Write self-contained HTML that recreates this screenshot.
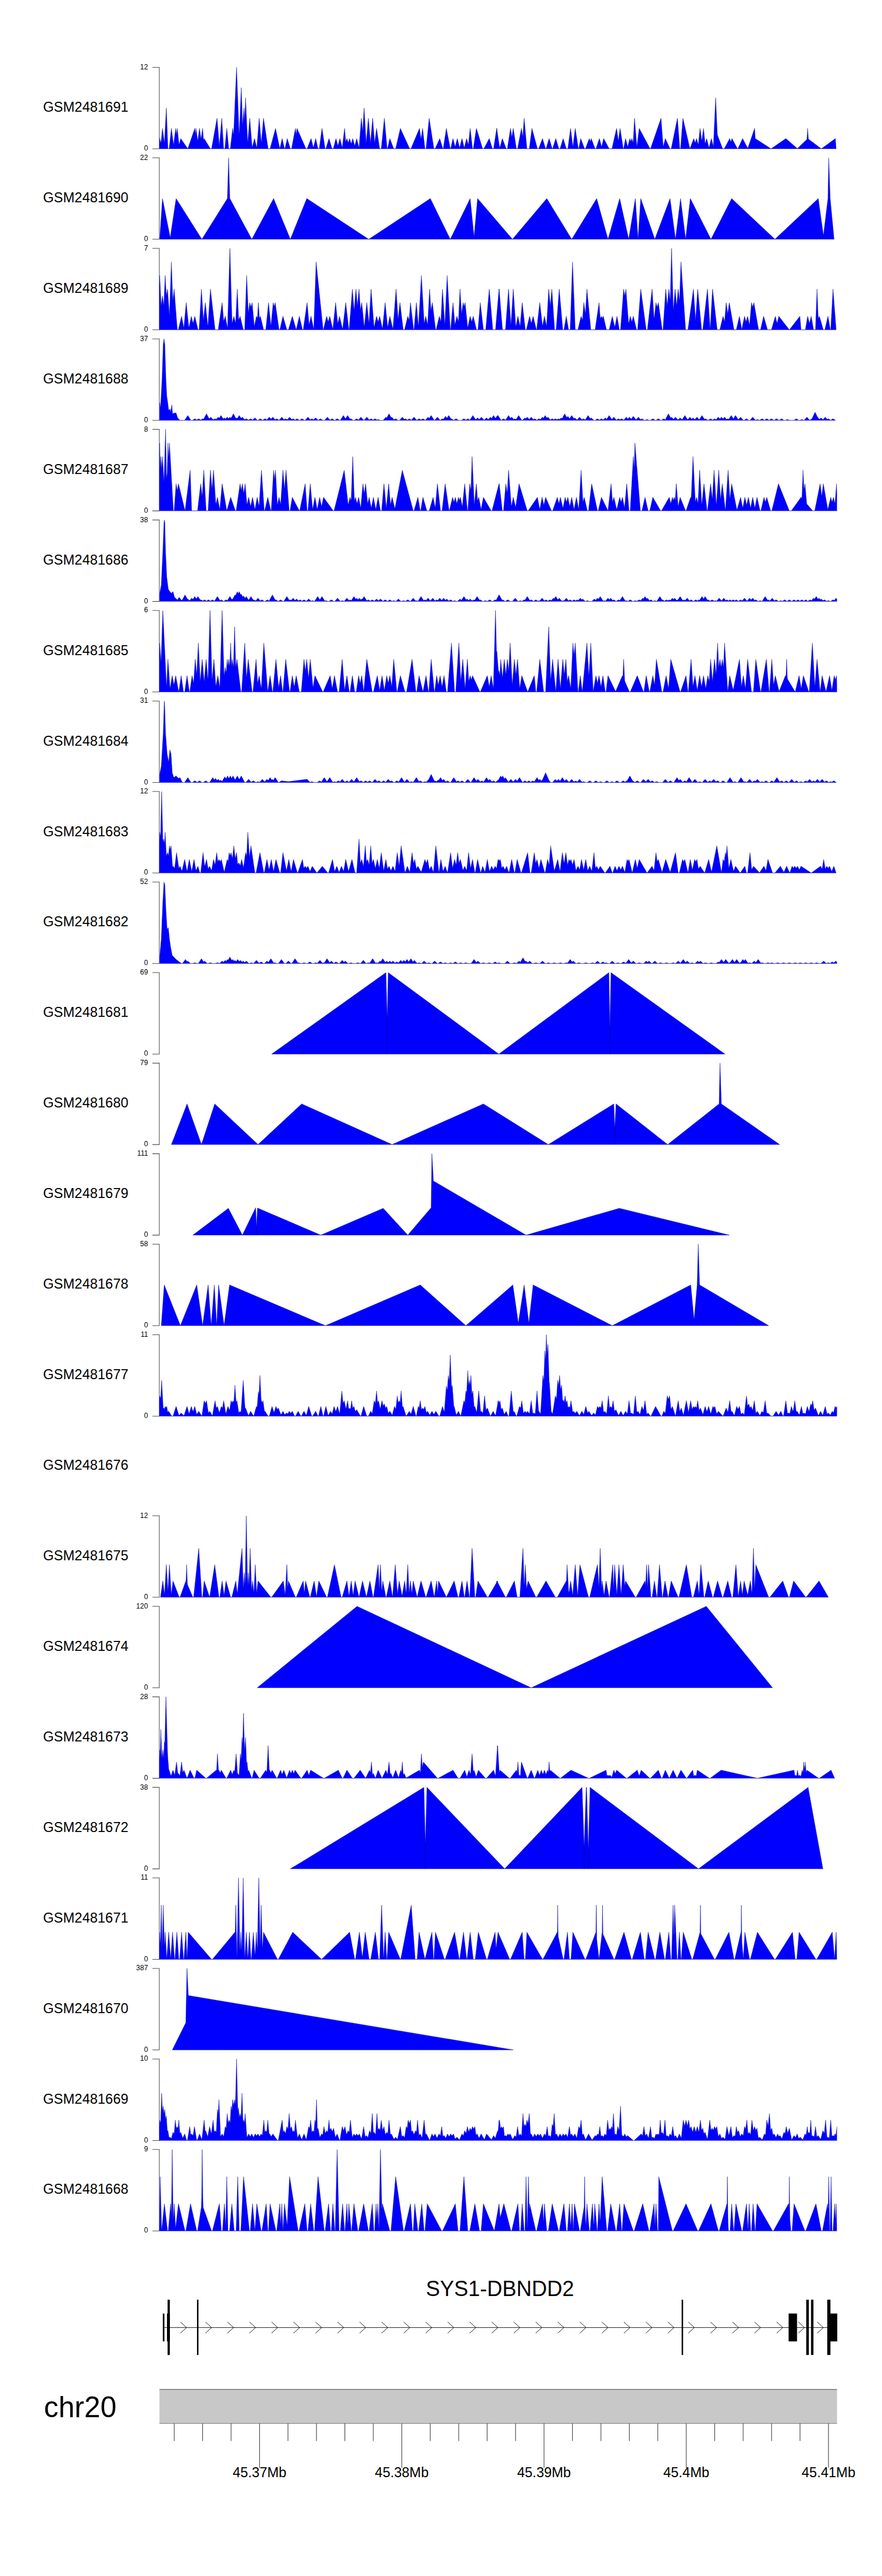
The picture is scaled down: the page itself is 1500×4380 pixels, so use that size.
<!DOCTYPE html><html><head><meta charset="utf-8"><title>tracks</title>
<style>html,body{margin:0;padding:0;background:#fff}svg{display:block}text{font-family:"Liberation Sans",Arial,sans-serif;fill:#000}</style></head><body>
<svg width="1500" height="4380" viewBox="0 0 1500 4380">
<rect width="1500" height="4380" fill="#fff"/>
<defs><clipPath id="cp"><rect x="270.9" y="0" width="1152.6" height="4380"/></clipPath></defs>
<text x="73.3" y="190.1" font-size="23.5">GSM2481691</text>
<path d="M259.2 114.4 H270.95 V252.9 H259.2" fill="none" stroke="#505050" stroke-width="1.05"/>
<text x="251.6" y="117.8" font-size="12" text-anchor="end">12</text>
<text x="251.6" y="256" font-size="12" text-anchor="end">0</text>
<path d="M270.9 252.9L270.9 247.6L271.4 234.9L273.8 243.4L276.3 218.3L279.6 243.4L282.9 183.7L285.6 252.9L287.6 252.9L291.5 218.3L295.2 246.7L298.8 218.3L300.2 229.4L301.5 218.3L304.5 246.5L307.4 235.6L319.4 252.9L331.3 218.3L332.3 229.4L333.3 218.3L336.3 240L339.3 218.3L341.9 236.7L344.6 218.3L345.9 235.6L346.4 239.1L347.2 235.6L357.9 252.9L359.8 252.9L369.1 201L373.1 248.6L377.1 201L380.4 252.9L382.4 252.9L385.7 218.3L389 252.9L391.7 252.9L395.7 218.3L396.9 227.6L397.4 228L402.3 114.4L406.4 221.5L406.9 229.4L410.3 149L412.6 213.8L414.9 183.7L416.2 205.8L417.6 166.3L421.2 243.6L424.8 201L428.8 251.5L432.8 235.6L436.8 251.5L440.8 201L444.4 243.6L448.1 201L456 252.9L459.3 252.9L468.6 218.3L475.9 252.9L479.9 235.6L483.9 252.9L484.5 252.9L488.5 235.6L493.8 252.9L495.8 252.9L502.4 218.3L503.8 229.4L505.1 218.3L520.4 252.9L522.3 252.9L529 235.6L533 251.5L536.9 235.6L540.9 252.9L542.9 252.9L547.6 218.3L552.9 252.9L554.2 252.9L559.5 235.6L564.8 252.9L566.8 252.9L571.4 235.6L574.7 248.1L578.1 235.6L582 251.5L586 218.3L588 241.5L590 235.6L592.3 243.1L594.6 235.6L597.3 244.8L599.9 235.6L603.3 248.1L606.6 235.6L610.6 251.5L614.5 201L616.9 223.6L619.2 183.7L622.8 243.6L626.5 201L630.1 243.6L633.8 201L637.1 243.4L640.4 218.3L645.7 252.9L648.4 252.9L653.7 201L658.3 252.9L659 252.9L663 235.6L669.6 252.9L672.9 252.9L680.9 218.3L696.8 252.9L698.8 252.9L713.4 218.3L716 236.7L718.7 218.3L722.7 252.9L724.6 252.9L729.9 201L737.9 252.9L739.9 252.9L747.9 235.6L753.2 252.9L753.8 252.9L759.1 218.3L765.8 252.9L766.4 252.9L770.4 235.6L774.1 249.8L777.7 235.6L781.7 251.5L785.7 235.6L789.6 251.5L793.6 235.6L796.6 246.5L799.6 218.3L803.6 252.9L804.9 252.9L810.2 218.3L820.8 252.9L822.8 252.9L832.1 235.6L837.4 252.9L839.4 252.9L844.7 218.3L844.8 219.3L845 218.3L845.9 226.1L849.9 251.9L854.3 235.6L860.9 252.9L862.9 252.9L868.2 218.3L870.5 233.3L872.9 218.3L878.2 252.9L880.2 252.9L886.8 218.3L889.1 233.3L891.4 201L896.1 252.9L900.1 252.9L904.7 218.3L914 252.9L916 252.9L922.6 235.6L927.9 252.9L928.6 252.9L933.9 235.6L939.2 252.9L939.8 252.9L945.2 235.6L950.5 252.9L952.4 252.9L957.8 235.6L963.1 252.9L965.7 252.9L970.4 218.3L974.3 250L978.3 218.3L983.6 252.9L984.3 252.9L987.6 235.6L994.2 252.9L995.6 252.9L1002.2 235.6L1003.9 241.1L1005.5 235.6L1012.1 252.9L1013.5 252.9L1019.4 235.6L1023.1 249.8L1026.7 235.6L1036 252.9L1040.7 252.9L1048.6 218.3L1051.6 240L1054.6 218.3L1059.9 252.9L1060.6 252.9L1063.9 235.6L1067.5 249.8L1071.2 235.6L1072.8 241.1L1074.5 235.6L1076.8 243.1L1079.1 201L1083.1 250L1087.1 218.3L1105.7 252.9L1106.3 252.9L1124.2 201L1127.9 249.8L1131.5 235.6L1139.5 252.9L1141.5 252.9L1152.1 201L1156.1 252.9L1157.4 252.9L1161.4 201L1173.3 252.9L1179.9 235.6L1182.3 243.1L1184.6 235.6L1187.6 246.5L1190.6 218.3L1193.5 240L1196.5 218.3L1199.2 244.8L1201.8 235.6L1205.8 251.5L1209.8 235.6L1213.1 248.5L1213.4 246.6L1217.1 166.3L1219.9 227.4L1220.4 230.4L1229 252.9L1231.7 252.9L1241 235.6L1243 241.5L1244.9 235.6L1254.2 252.9L1254.4 252.9L1254.9 252.9L1262.9 235.6L1271.5 251.7L1271.9 251.7L1283.4 218.3L1284.4 235.4L1311.3 252.9L1336.5 235.6L1355.9 252.5L1356.4 252.3L1372.4 236.8L1373.6 218.3L1374.4 231.8L1374.9 236.5L1396.8 252.9L1420.7 235.6L1422 252.9L1422 252.9Z" fill="#0000ff" stroke="#0000a8" stroke-width="0.45" stroke-linejoin="round" clip-path="url(#cp)"/>
<text x="73.3" y="344" font-size="23.5">GSM2481690</text>
<path d="M259.2 268.3 H270.95 V406.8 H259.2" fill="none" stroke="#505050" stroke-width="1.05"/>
<text x="251.6" y="271.7" font-size="12" text-anchor="end">22</text>
<text x="251.6" y="409.9" font-size="12" text-anchor="end">0</text>
<path d="M271.6 406.8L271.6 406.8L276.3 337.6L289.5 404.1L299.5 337.6L343.3 406.8L386.7 337.6L388.8 268.3L390.9 337.6L428.2 406.8L465.3 337.6L493.8 406.8L521.7 337.6L627.1 406.8L731.9 337.6L765.8 406.8L799.6 337.6L806.2 402.7L812.2 337.6L871.5 406.8L929.9 337.6L972.3 406.8L1014.8 337.6L1034 406.8L1053.9 337.6L1069.2 406.8L1080.5 337.6L1085.1 406.8L1089.7 337.6L1113.6 406.8L1139.5 337.6L1148.8 406.8L1157.4 337.6L1166 406.8L1174 337.6L1209.1 406.8L1244.3 337.6L1317.9 406.8L1391.6 337.6L1400.4 400.6L1408.1 337.6L1409.4 268.3L1411.9 337.6L1418.5 406.8L1418.5 406.8Z" fill="#0000ff" stroke="#0000a8" stroke-width="0.45" stroke-linejoin="round" clip-path="url(#cp)"/>
<text x="73.3" y="497.9" font-size="23.5">GSM2481689</text>
<path d="M259.2 422.3 H270.95 V560.8 H259.2" fill="none" stroke="#505050" stroke-width="1.05"/>
<text x="251.6" y="425.7" font-size="12" text-anchor="end">7</text>
<text x="251.6" y="563.9" font-size="12" text-anchor="end">0</text>
<path d="M270.9 560.8L270.9 485.4L271.6 468.4L274 520L276.3 503.1L278.6 520L280.9 468.4L282.9 503.5L284.9 491.5L288.2 536.9L291.5 445.4L293.9 511.9L296.2 491.5L301.5 560.8L303.3 560.8L308.8 537.7L312.4 556.5L312.8 556.6L316.7 514.6L320.9 555.1L321.4 556.9L325.4 537.7L328.3 550L331.3 537.7L336.8 560.8L338.6 560.8L342.6 491.5L345.9 544.9L349.2 514.6L353.4 555.1L353.9 550.5L357.9 491.5L365.8 560.8L371.1 560.8L377.8 514.6L380.4 545.4L380.9 545.5L383.1 537.7L387 558.4L391 422.3L394.4 539.9L394.9 550.2L397.7 537.7L400.6 550L403.6 491.5L405.9 544.5L408.3 537.7L413.8 560.8L416.2 560.8L419.5 468.4L422.4 532.3L424.8 514.6L426.8 522.6L428.8 514.6L432.5 555.6L436.1 537.7L437.8 541.1L439.4 514.6L441.1 541.1L442.8 537.7L448.3 560.8L451.9 560.8L452 560.8L456.7 514.6L460.7 554.2L460.9 553.5L464.6 514.6L466.3 521.5L468 514.6L474.6 560.8L475.9 560.8L481.2 537.7L487.9 560.8L490.5 560.8L497.1 537.7L503.8 560.8L509.1 537.7L514.4 560.8L515.7 560.8L522.3 514.6L525.7 552.8L529 537.7L533.6 560.3L537.6 445.3L549.5 560.8L550 560.8L555.5 537.7L558.2 547.2L560.8 537.7L566.1 560.1L570.8 514.6L574.4 550.7L577.4 537.7L582.7 559.9L588 514.6L593.3 560.8L593.8 560.8L599.3 491.5L602.3 528.6L605.3 491.5L607.9 520.2L610.6 491.5L612.9 526.4L613.4 525.1L615.2 514.6L619.4 555.4L619.9 552.8L623.8 514.6L627.5 550.4L631.1 491.5L635.9 553.9L636.4 555.8L640.4 537.7L643.1 547.2L645.7 537.7L650.4 558.9L650.8 556.1L655 514.6L659 554.2L659.4 556.2L663 537.7L668.3 559.9L673.6 491.5L676.9 541.2L677.4 540.2L680.2 514.6L685.7 560.8L688 560.8L693.5 537.7L695.8 544.5L698.1 514.6L703.4 560.8L704.1 560.8L708.1 514.6L711.4 553.3L711.9 551.7L716.7 468.4L721.4 550.4L724 537.7L727.3 552.8L730.6 491.5L732.9 528.2L735.3 514.6L740.8 560.8L741.7 560.8L747.2 537.7L749.8 547.2L752.5 491.5L756.5 553.6L760.5 468.4L765.8 560.8L766.4 560.8L770.4 514.6L773.7 552.8L777 537.7L779.7 546.9L782.3 491.5L785 533.7L787.7 514.6L789.3 521.5L791 514.6L795.4 557.7L799.6 537.7L802.2 547.3L804.9 537.7L810.4 560.8L812.9 560.8L816.8 514.6L822.1 560.8L826.1 560.8L832.1 491.5L838.1 560.8L842.7 560.8L848.7 491.5L848.8 493.3L849 491.5L851.4 523.1L854.6 560.8L859.6 560.8L864.9 491.5L868.9 553.6L872.9 491.5L876.9 551.8L877.4 555.5L880.8 537.7L884.5 555.6L888.1 514.6L893.4 560.8L893.9 560.8L895.2 560.8L900.7 537.7L903.7 550L906.7 537.7L912.2 560.8L912.7 560.8L918 514.6L922.4 553.2L922.9 553.4L925.9 537.7L929.6 555L933.2 491.5L935.9 520.2L938.5 491.5L943.2 560.8L945.8 560.8L951.1 491.5L957.1 560.8L959.1 560.8L963.1 537.7L967 560.8L969.7 560.8L973.7 445.4L978.3 560.8L982.8 560.8L988.3 537.7L990.6 544.5L992.9 514.6L995.6 533.7L998.2 491.5L1004.8 560.8L1012.1 560.8L1018.8 514.6L1020.8 541.7L1022.8 537.7L1024.4 541.1L1026.1 537.7L1031.4 560.8L1036 560.8L1041.3 537.7L1045.4 555.4L1045.9 555.3L1049.3 537.7L1053.3 560.8L1055.3 560.8L1060.6 491.5L1062.6 503.5L1064.5 491.5L1068.9 548.4L1069.4 549.7L1071.8 537.7L1074.5 547.2L1077.1 537.7L1082.6 560.8L1084.4 560.8L1089.7 491.5L1099 560.8L1101 560.8L1109 491.5L1112.4 542.5L1112.9 539.4L1115.6 514.6L1117.6 522.6L1119.6 514.6L1126.2 560.8L1127.6 560.8L1132.2 491.5L1134.8 520.2L1137.5 491.5L1139.8 511.9L1142.1 422.3L1145.1 528.6L1148.1 491.5L1150.8 520.2L1153.4 491.5L1155.7 511.9L1158.1 445.3L1166 560.8L1170 560.8L1179.3 491.5L1182.9 545.3L1186.6 491.5L1193.2 560.8L1195.2 560.8L1203.2 491.5L1207.8 560.8L1211.8 491.5L1219.7 560.8L1224.2 560.8L1229.7 537.7L1232.3 547.2L1235 514.6L1237.7 533.7L1240.3 514.6L1248.3 560.8L1252.2 560.8L1257.6 537.7L1261.5 560.3L1266.2 537.7L1268.8 547.2L1271.5 537.7L1274.8 552.8L1278.1 514.6L1280.1 522.6L1282.1 514.6L1290.1 560.8L1293.4 560.8L1298.7 537.7L1305.3 560.8L1311.9 560.8L1318.6 537.7L1321.6 550L1324.5 537.7L1342.4 560.8L1360.4 537.7L1362.3 560.8L1369.6 560.8L1373.6 537.7L1376.6 550L1379.6 537.7L1383.6 560.8L1386.9 560.8L1389.5 491.5L1391.5 541.7L1393.5 537.7L1400.2 560.8L1402.8 560.8L1408.1 537.7L1412.1 560.8L1412.8 560.8L1416.7 491.5L1422 560.8L1422 560.8Z" fill="#0000ff" stroke="#0000a8" stroke-width="0.45" stroke-linejoin="round" clip-path="url(#cp)"/>
<text x="73.3" y="651.8" font-size="23.5">GSM2481688</text>
<path d="M259.2 576.2 H270.95 V714.7 H259.2" fill="none" stroke="#505050" stroke-width="1.05"/>
<text x="251.6" y="579.6" font-size="12" text-anchor="end">37</text>
<text x="251.6" y="717.8" font-size="12" text-anchor="end">0</text>
<path d="M271.6 714.7L271.6 713.6L271.6 684.2L273 693.9L275.6 645.4L277.6 585.9L278.9 576.2L280.3 585.9L282.2 645.4L283.6 673.1L285.6 687L286.9 698.1L288.9 695.3L290.2 700.8L292.2 688.4L293.5 703.6L296.2 702.2L299.5 702.2L302.1 710.5L306.1 714.7L313.9 714.7L319.4 706.4L324.8 714.7L327.1 714.7L331.3 711.9L334.6 714.1L338 711.9L341.1 714L341.6 713.9L344.6 711.9L346.1 712.9L351.2 703.6L355.6 711.7L356.1 711.9L358.5 709.2L362.6 713.8L365.8 711.9L367.6 713.1L371.1 709.2L372.6 710.9L373.1 710.4L375.8 706.4L379.6 712.3L381.7 710.5L383.6 712.3L386.4 709.2L388.6 711.7L391 709.2L392.6 711L393.1 710.7L397 703.6L401.1 711.2L401.5 711.3L402.3 710.5L403.1 711.3L403.6 711.4L406.9 706.4L410.1 711.2L410.6 711L412.2 709.2L416.1 713.6L418.9 711.9L422.6 714.2L426.2 711.9L429.6 714.1L433.5 710.5L438 714.7L438.5 714.7L442.8 711.9L446.6 714.4L450.7 711.9L453.6 713.8L454.1 713.6L458 709.2L460.6 712.1L461.1 712.4L464 709.2L467.6 713.3L468.1 713.5L470.6 711.9L474.6 714.4L479.2 709.2L483.1 713.6L485.9 711.9L488.6 713.6L492.5 709.2L496.1 713.3L498.5 711.9L501.6 714L502.1 713.9L505.1 711.9L509.3 714.7L513.7 711.9L518 714.7L518.8 714.7L523.7 709.2L527.6 713.7L530.3 711.9L533.1 713.8L533.6 713.6L536.9 710.5L541.1 714.4L544.9 711.9L549.1 714.7L552 714.7L556.8 709.2L561.1 714.1L561.6 714L564.8 711.9L569.2 714.7L573.4 711.9L577.7 714.7L578.6 714.7L584 706.4L587.6 711.9L591.3 706.4L595.1 712.2L595.6 712.6L596.6 711.9L600.9 714.7L602.3 714.7L606.6 711.9L609.6 713.9L613.9 709.2L618.7 714.7L619 714.7L623.8 709.2L628.1 713.9L631.1 711.9L634.1 713.9L634.6 714L637.8 711.9L641.1 714L643.1 713.3L647 714.7L651.5 714.7L656.3 709.2L657.6 710.6L658.1 710.1L661.6 703.6L665.1 710L665.6 709.9L666.3 709.2L670.1 713.6L670.6 713.4L672.9 711.9L677.2 714.7L679.3 714.7L684.2 709.2L687.6 713.1L689.5 711.9L692.6 714L693.1 713.9L696.1 711.9L699.6 714.2L704.1 709.2L708.6 714.3L708.9 714.4L712.7 711.9L716.1 714L719.3 711.9L723.1 714.4L723.6 714.2L728 709.2L729.6 711.1L730.1 711.2L733.3 706.4L738.7 714.7L739 714.7L743.9 709.2L748.6 714.4L752.5 711.9L753.6 712.7L754.1 712.7L757.8 707.8L760.1 710.9L763.1 706.4L767.1 712.3L767.8 711.9L771.6 714.4L775.7 711.9L780 714.7L784.7 714.7L789 711.9L792.1 714L792.6 713.9L795.6 711.9L799.1 714.2L804.2 706.4L808.6 713.1L809.1 713.3L812.2 710.5L815.1 713.2L818.8 709.2L823.1 714.1L823.6 714L827.4 710.5L830.1 713L830.6 713.1L834.1 709.2L836.1 711.4L839.4 706.4L842.6 711.3L846 706.4L846.6 706.9L847 706.4L852.1 714.2L852.4 714.4L856.3 711.9L859.6 714.1L860.1 713.7L864.9 706.4L868.1 711.3L870.2 709.2L873.6 713.1L875.5 711.9L877.6 713.3L882.1 706.4L887.6 714.7L888.2 714.7L892.8 710.5L894.1 711.8L894.6 711.6L896.7 709.2L900.1 712.9L903.4 709.2L907.1 713.4L909.3 711.9L912.6 714.1L913.1 714.2L916.6 711.9L918.6 713.2L919.1 713.1L922.6 709.2L924.1 710.9L924.6 710.4L927.2 706.4L930.1 710.8L930.6 710.6L931.9 709.2L936.1 713.9L939.2 711.9L941.6 713.5L942.1 713.5L944.5 711.9L947.1 713.6L949.8 711.9L951.6 713.1L954.4 710.5L955.6 711.6L956.1 711.5L960.4 703.6L963.6 709.5L964.1 709.9L965.7 707.8L968.6 711.7L969.1 711.3L972.3 706.4L976.1 711.9L977.7 710.5L981.1 713.7L981.6 713.7L985.6 709.2L989.6 713.6L992.2 711.9L995.1 713.8L995.6 713.4L1000.2 706.4L1003.6 711.6L1004.1 711.8L1005.5 710.5L1010.1 714.7L1011.9 714.7L1016.1 711.9L1019.1 713.9L1019.6 714L1022.8 711.9L1025.6 713.8L1026.1 713.5L1029.4 710.5L1031.6 712.6L1032.1 712.3L1036 706.4L1040.1 712.6L1040.6 713L1044 709.2L1048.1 713.9L1048.6 714.1L1051.9 711.9L1054.6 713.6L1057.2 711.9L1060.6 714.1L1061.1 713.8L1065.2 709.2L1067.6 711.9L1068.1 711.9L1070.5 709.2L1073.6 712.5L1077.1 707.8L1081.6 713.8L1085.8 709.2L1089.1 713L1089.6 713.3L1091.7 711.9L1096 714.7L1096.4 714.7L1100.4 713.3L1104.3 714.7L1106.1 714.7L1110.3 711.9L1114.6 714.7L1115.3 714.7L1119.6 711.9L1123.8 714.7L1124.6 714.7L1128.9 711.9L1131.1 713.4L1131.6 713.2L1136.8 703.6L1140.6 710.6L1141.1 710.3L1142.1 709.2L1145.1 712.6L1145.6 712.8L1148.8 709.2L1152.6 713.6L1153.1 713.8L1156.7 710.5L1159.6 713.2L1160.1 713.4L1164.7 706.4L1169.1 713.1L1169.6 713.4L1173.3 709.2L1176.1 712.4L1176.6 712.4L1178.6 710.5L1181.6 713.3L1185.3 709.2L1189.1 713.6L1193.9 706.4L1198.1 712.9L1199.8 711.9L1204.1 714.7L1208.5 711.9L1211.6 714L1212.1 713.9L1215.1 711.9L1217.6 713.6L1218.1 713.3L1221.7 709.2L1224.1 711.9L1224.6 711.9L1227 709.2L1229.6 712.1L1232.3 709.2L1235.6 712.9L1236.1 712.9L1237.7 711.9L1239.1 712.9L1239.6 712.5L1243.6 706.4L1247.1 711.7L1247.6 711.4L1250.9 706.4L1255.6 713.6L1259.5 709.2L1264.4 714.7L1265.2 714.7L1269.5 711.9L1273.7 714.7L1275.3 714.7L1280.1 709.2L1284.6 714.3L1284.9 714.4L1288.1 713.3L1291.8 714.6L1296 711.9L1299.7 714.3L1300.1 714.4L1304 711.9L1307.7 714.3L1308.1 714.4L1311.9 711.9L1316.3 714.7L1320.6 711.9L1324.9 714.7L1329.2 711.9L1333.4 714.7L1335.2 714.7L1339.1 713.3L1343.1 714.7L1350.1 714.7L1354.4 711.9L1358.6 714.7L1359.7 714.7L1363.7 713.3L1367.5 714.6L1372.3 709.2L1376.7 714.2L1377.1 714.4L1380.9 711.9L1386.2 700.8L1390.2 709.1L1393.6 712.9L1396.2 710.5L1399.6 713.6L1403.5 709.2L1406.6 712.8L1407.1 713L1408.8 711.9L1412.6 714.4L1413 714.3L1416.7 711.9L1421 714.7L1421 714.7Z" fill="#0000ff" stroke="#0000a8" stroke-width="0.45" stroke-linejoin="round" clip-path="url(#cp)"/>
<text x="73.3" y="805.8" font-size="23.5">GSM2481687</text>
<path d="M259.2 730.1 H270.95 V868.6 H259.2" fill="none" stroke="#505050" stroke-width="1.05"/>
<text x="251.6" y="733.5" font-size="12" text-anchor="end">8</text>
<text x="251.6" y="871.7" font-size="12" text-anchor="end">0</text>
<path d="M270.9 868.6L270.9 785.1L271.6 753.2L272.6 798L273.6 776.3L274.9 798L276.3 776.3L278.9 820L281.6 730.1L283.2 813.8L284.4 803.7L285.6 753.2L286.9 780.3L288.2 753.2L294.8 868.6L296.2 868.6L299.5 822.5L301.5 834.3L303.5 822.5L314.7 868.6L323.4 799.4L326 868.6L336 868.6L341.3 822.5L343.9 844.3L346.6 799.4L350.6 868.6L353.9 868.6L357.9 799.4L360.5 832.1L363.2 799.4L366.9 855.1L367.4 857L369.8 845.5L373.8 866.5L377.8 822.5L385.7 868.6L392.3 845.5L400.3 868.6L401.4 868.6L401.6 868.6L408.3 822.5L410.3 834.3L412.2 822.5L414.6 839.3L416.9 822.5L419.9 857.4L420.4 856.6L422.9 845.5L426.2 861.5L429.5 845.5L433.5 866.5L437.4 845.5L440.4 860.5L440.9 856.7L444.7 799.4L449.4 868.6L450.1 868.6L455.4 845.5L460.7 868.6L461.3 868.6L465.3 799.4L467 815.6L468.6 799.4L471.6 859L474.6 845.5L476.9 856.6L477.4 856.4L481.2 799.4L483.9 832.1L486.5 799.4L491.8 868.6L493.2 868.6L497.1 845.5L509.1 868.6L509.7 868.6L519 822.5L522.3 868.6L523.7 868.6L527.7 822.5L531.6 866.5L535.6 845.5L539.6 866.5L543.6 845.5L546.9 861.5L550.2 845.5L566.8 868.6L568.1 868.6L585.4 799.4L591.9 856.3L592.4 857.8L595.3 845.5L596.9 851.3L597.4 847.3L599.9 776.3L602.4 844.5L602.9 851.7L604.6 845.5L607.2 856.5L609.9 845.5L613.5 864L617.2 822.5L619.5 839.3L621.8 822.5L624.9 852.9L625.4 856.4L627.8 845.5L631.5 864L635.1 845.5L639.1 866.5L643.1 845.5L647 868.6L649 868.6L653 822.5L657 864.3L661 822.5L664 857.1L664.4 857L666.9 845.5L671.4 864.3L671.9 863.5L684.2 799.4L702.8 868.6L704.1 868.6L710.7 845.5L714.7 868.6L715.4 868.6L719.3 845.5L726 868.6L729.9 868.6L736.6 845.5L740.2 864L743.9 822.5L749.2 868.6L751.8 868.6L757.1 822.5L763.8 868.6L764.2 868.6L769.7 845.5L772.1 854L774.4 845.5L777 856.5L779.7 845.5L781.4 851L783 845.5L786.3 862L790.3 822.5L794.9 868.6L795.6 868.6L798.9 822.5L800.9 834.3L802.9 776.3L806.6 859.3L810.2 822.5L812.2 851.5L814.2 845.5L818.2 866.5L822.1 845.5L835.4 868.6L836.7 868.6L848.7 822.5L848.8 824.2L849 822.5L854.3 868.6L856.3 868.6L860.3 822.5L862.6 839.3L864.9 799.4L869.4 858.1L869.9 861.1L872.9 845.5L876.9 862.6L877.4 860.1L882.8 822.5L896.7 868.6L898.1 868.6L914 845.5L918 866.5L921.9 845.5L924.9 859L927.9 845.5L937.9 868.6L939.4 868.6L939.8 868.6L947.8 845.5L950.5 856.5L953.1 845.5L957.4 864.2L961.1 845.5L963.4 854L965.7 845.5L969 861.5L972.3 845.5L976.3 866.5L980.3 845.5L984.3 866.5L988.3 799.4L991.4 853.9L993.6 845.5L998.9 868.6L1000.9 868.6L1006.2 822.5L1016.1 868.6L1017.4 868.6L1022.8 845.5L1034 868.6L1039.3 822.5L1041.7 854L1044 845.5L1048.9 866.7L1053.9 845.5L1056.2 854L1058.6 845.5L1062.2 864L1065.9 822.5L1069.8 868.6L1071.8 868.6L1077.1 776.3L1078.5 798L1079.8 753.2L1089.1 868.6L1091.7 868.6L1097 845.5L1102.3 868.6L1105 868.6L1110.3 845.5L1123.6 868.6L1124.9 868.6L1138.2 845.5L1140.8 856.5L1143.5 845.5L1145.1 851L1146.8 845.5L1148.4 851L1150.1 822.5L1153.4 861.5L1156.7 845.5L1166 868.6L1166.7 868.6L1174.6 845.5L1175.4 847.8L1175.9 839.5L1178.6 776.3L1182.4 851.4L1182.9 853.1L1184.6 845.5L1186.9 855L1187.2 854.8L1189.9 799.4L1193.5 859.3L1197.2 822.5L1202.5 868.6L1203.2 868.6L1208.5 822.5L1211.5 849.3L1214.4 799.4L1217.9 854L1218.4 859L1222.4 799.4L1225.4 849.3L1228.4 822.5L1233.7 868.6L1238.3 799.4L1241.3 849.3L1244.3 822.5L1252.9 865.3L1253.4 866.9L1259.5 845.5L1263.2 864L1266.8 845.5L1269.8 859L1272.8 845.5L1276.5 864L1280.1 845.5L1283.8 864L1287.4 845.5L1292.7 868.6L1294 868.6L1299.3 845.5L1301.7 854L1304 845.5L1310.6 868.6L1312.6 868.6L1323.9 822.5L1342.4 868.6L1345.8 868.6L1362.3 845.5L1363.4 846.8L1363.9 845.4L1365.7 799.4L1367.3 833.3L1369 822.5L1371.9 856.3L1372.4 857.2L1382.2 868.6L1385.6 868.6L1394.8 822.5L1397.5 844.3L1400.2 822.5L1407.9 866.7L1412.8 845.5L1415.1 854L1417.4 845.5L1420.1 856.5L1422.7 822.5L1423.5 840.9L1423.5 868.6Z" fill="#0000ff" stroke="#0000a8" stroke-width="0.45" stroke-linejoin="round" clip-path="url(#cp)"/>
<text x="73.3" y="959.7" font-size="23.5">GSM2481686</text>
<path d="M259.2 884.1 H270.95 V1022.6 H259.2" fill="none" stroke="#505050" stroke-width="1.05"/>
<text x="251.6" y="887.5" font-size="12" text-anchor="end">38</text>
<text x="251.6" y="1025.7" font-size="12" text-anchor="end">0</text>
<path d="M271.6 1022.6L271.6 1022.1L271.6 1008.7L274.3 994.8L276.9 939.4L278.9 888.2L279.6 884.1L280.3 888.2L281.6 939.5L283.6 981L286.2 1001.8L288.9 1005.9L291.5 1008.7L294.2 1005.9L296.8 1015.6L301.5 1019.8L301.6 1019.9L304.8 1015.6L308.6 1020.7L310.1 1019.8L310.6 1019L314.7 1011.5L318.6 1018.6L319.1 1018.6L319.4 1018.4L322.1 1020.9L322.6 1020.9L326 1017L327.6 1018.8L328.1 1019.1L331.3 1014.2L333.6 1017.7L334.1 1018.1L336.6 1014.2L340.6 1020.3L341.1 1020.3L341.9 1019.8L344.6 1021.5L345.1 1021.6L347.9 1019.8L351.1 1021.9L354.5 1019.8L357.6 1021.8L358.1 1021.8L361.2 1019.8L364.6 1022L369.8 1014.2L374.1 1020.9L374.6 1021L376.4 1019.8L380.1 1022.2L380.6 1022.2L384.4 1019.8L386.1 1020.9L386.6 1021L391 1014.2L394.1 1019L394.6 1019.3L396.1 1017.9L399.6 1011.5L400.2 1012.5L400.6 1012.8L403.6 1005.9L405.1 1009.4L405.6 1009L406.9 1005.9L409.1 1011L409.6 1011.3L410.3 1010.1L412.6 1014.7L413.1 1014.7L414.2 1012.9L416.6 1016.9L417.1 1016.9L418.9 1014.2L422.6 1020L423.1 1019.9L426.8 1014.2L430.6 1020L431.1 1020.4L432.1 1019.8L434.6 1021.4L435.1 1021.2L438.8 1017L442.6 1021.4L443.1 1021.3L445.4 1019.8L449.7 1022.5L450.4 1022.5L454.7 1019.8L457.6 1021.7L463.3 1011.5L468.1 1020.3L468.6 1020.2L469.3 1019.8L473.1 1022.3L473.5 1022.2L477.2 1019.8L481.5 1022.6L482.4 1022.6L487.9 1014.2L491.6 1020L492.1 1020.5L493.2 1019.8L494.6 1020.7L495.1 1020.8L498.5 1017L501.6 1020.6L502.1 1020.5L504.4 1018.4L507.6 1021.3L508.1 1021.3L510.4 1019.8L513.6 1021.9L517 1019.8L520.6 1022.1L521.1 1021.9L525 1018.4L529.1 1022L531.6 1021.2L534.8 1022.3L535.1 1022.1L540.3 1014.2L543.6 1019.4L544.1 1019.5L547.6 1014.2L552.1 1021.2L552.6 1021.7L554.2 1021.2L558.1 1022.5L559.2 1022.6L563.5 1019.8L567.7 1022.5L569.2 1022.5L574.1 1017L578.6 1022.2L578.9 1022.3L582 1021.2L585.2 1022.3L585.6 1022L590 1017L593.1 1020.6L593.6 1020.9L595.3 1019.8L597.1 1021L597.6 1020.8L601.9 1014.2L604.6 1018.3L605.1 1018.7L606.6 1017L608.6 1019.3L609.1 1019.4L611.2 1017L613.6 1019.8L615.2 1018.4L616.1 1019L619.2 1014.2L623.6 1021L624.1 1021.3L626.5 1019.8L629.6 1021.8L630.1 1021.7L633.1 1019.8L636.1 1021.7L636.6 1021.9L640.4 1018.4L643.6 1021.3L644.1 1021.1L647 1018.4L651.1 1022.1L651.6 1022L655 1019.8L658.7 1022.2L659.1 1022.3L663 1019.8L666.6 1022.2L669.6 1021.2L673.1 1022.4L677.6 1018.4L682.1 1022.6L686.2 1021.2L689.6 1022.3L693.5 1019.8L697.9 1022.6L702.8 1017L706.6 1021.4L707.1 1021.5L708.1 1021.2L710.6 1022.1L711.1 1021.7L716 1014.2L720.6 1021.1L722.7 1019.8L724.1 1020.7L724.6 1020.8L728 1017L731.6 1021.2L732.1 1021.4L735.9 1017L739.6 1021.2L740.1 1021.4L742.6 1019.8L744.1 1020.8L744.6 1020.7L747.9 1017L751.1 1020.7L754.5 1017L757.1 1020L757.6 1020.4L759.8 1018.4L763.1 1021.4L763.6 1021.6L766.4 1019.8L770.1 1022.2L773.1 1021.2L777 1022.6L777.8 1022.5L782.3 1018.4L784.6 1020.5L785.1 1020.1L789 1014.2L792.6 1019.8L794.3 1018.4L796.6 1020.5L797.1 1020.7L799.6 1018.4L802.6 1021.2L803.1 1021.4L805.6 1019.8L807.1 1020.8L811.5 1014.2L815.6 1020.5L816.8 1019.8L821.1 1022.6L821.5 1022.5L825.5 1021.2L828.6 1022.3L829.1 1022.2L832.8 1019.8L837 1022.6L837.8 1022.5L842 1019.8L843.6 1020.7L848.7 1011.5L849 1011.5L853.6 1020L854.1 1020.3L854.9 1019.8L859.2 1022.6L863.6 1019.8L867.8 1022.5L871.3 1022.5L876.2 1017L881 1022.5L884.8 1021.2L887.6 1022.2L891.4 1019.8L892.6 1020.5L896.7 1014.2L901.1 1020.9L901.6 1020.9L903.4 1019.8L907.1 1022.2L907.6 1022.2L911.3 1019.8L914.6 1021.9L916.6 1021.2L917.6 1021.5L918.1 1021.4L921.9 1017L925.6 1021.2L926.1 1021.4L928.6 1019.8L931.6 1021.8L932.1 1021.8L935.2 1019.8L937.1 1021L937.6 1021.1L941.2 1017L942.1 1018.1L942.6 1018.1L945.2 1014.2L948.6 1019.5L949.1 1019.3L951.1 1017L955.1 1021.6L955.6 1021.9L957.8 1021.2L959.1 1021.5L963.1 1017L967.1 1021.5L969.7 1019.8L973.1 1021.9L976.3 1019.8L978.6 1021.3L979.1 1021.4L981.6 1019.8L983.1 1020.8L983.6 1020.8L986.9 1017L989.1 1019.5L989.6 1019.6L990.9 1018.4L995.1 1022.2L995.5 1022.4L998.9 1021.2L1002.8 1022.6L1006.3 1022.5L1010.8 1018.4L1013.1 1020.4L1016.1 1017L1017.6 1018.7L1018.1 1018.3L1020.8 1014.2L1025.6 1021.7L1027.4 1021.2L1029.6 1021.9L1034 1017L1036.1 1019.4L1036.6 1019.4L1038.7 1017L1042.1 1021L1044 1019.8L1047.7 1022.2L1048.1 1022.3L1051.9 1019.8L1054.1 1021L1058.6 1014.2L1063.1 1021.2L1063.6 1021.7L1065.2 1021.2L1068.1 1022.2L1071.8 1019.8L1076.1 1022.6L1076.5 1022.5L1080.5 1021.2L1083.1 1022.1L1083.6 1022L1087.1 1019.8L1089.1 1021.1L1089.6 1020.9L1093.1 1017L1094.1 1018.2L1094.6 1017.9L1097 1014.2L1099.6 1018.2L1100.1 1018L1101 1017L1104.6 1021.1L1105.1 1021L1107 1019.8L1110.6 1022.2L1113.6 1021.2L1116.8 1022.3L1117.1 1022.1L1122.2 1014.2L1126.1 1020.2L1126.9 1019.8L1130.1 1021.9L1133.5 1019.8L1135.6 1021.2L1136.1 1021.1L1138.2 1019.8L1139.6 1020.7L1140.1 1020.8L1143.5 1017L1145.1 1018.9L1145.6 1019.1L1147.4 1017L1150.6 1020.6L1151.1 1020.8L1152.8 1019.8L1153.1 1019.8L1156.7 1014.2L1161.1 1020.9L1161.6 1020.9L1163.4 1019.8L1165.1 1020.9L1168.7 1017L1172.6 1021.5L1175.3 1019.8L1179.1 1022.3L1179.6 1022.2L1183.3 1019.8L1185.6 1021.3L1186.1 1021.4L1188.6 1019.8L1189.6 1020.5L1190.1 1020L1193.9 1014.2L1196.1 1017.7L1196.6 1018.2L1199.2 1014.2L1203.1 1020.3L1203.6 1020.3L1204.5 1019.8L1207.6 1021.8L1208.1 1021.7L1211.1 1019.8L1214.1 1021.7L1214.6 1021.8L1216.4 1021.2L1218.6 1021.9L1223.1 1017L1227.1 1021.5L1231 1017L1234.1 1020.6L1234.6 1020.9L1236.3 1019.8L1238.6 1021.3L1239.1 1021.4L1241.6 1019.8L1244.1 1021.4L1244.6 1021.3L1246.9 1019.8L1249.6 1021.5L1252.2 1019.8L1255.6 1022L1256.1 1022L1259.5 1019.8L1262.1 1021.5L1266.2 1017L1270.1 1021.5L1270.6 1021.8L1274.8 1017L1277.1 1019.7L1277.6 1019.8L1280.1 1017L1283.6 1020.9L1285.4 1019.8L1289.1 1022.2L1289.6 1022.2L1292.7 1021.2L1295.9 1022.3L1296.1 1022.2L1301.3 1014.2L1305.1 1020L1305.6 1020.4L1306.6 1019.8L1309.1 1021.4L1309.6 1021.2L1313.3 1017L1317.1 1021.4L1319.9 1019.8L1324.1 1022.5L1327.9 1021.2L1330.6 1022.1L1331.1 1022L1334.5 1019.8L1338.2 1022.2L1338.6 1022.3L1342.4 1019.8L1346.2 1022.2L1346.6 1022.3L1350.4 1019.8L1353.6 1021.9L1357 1019.8L1360.1 1021.8L1360.6 1021.8L1363.7 1019.8L1366.6 1021.7L1367.1 1021.9L1370.3 1019.8L1373.6 1021.9L1374.1 1022.1L1377.6 1019.8L1379.6 1021.1L1380.1 1021L1383.6 1017L1385.1 1018.8L1388.2 1014.2L1391.1 1018.7L1391.6 1018.4L1392.9 1017L1395.1 1019.6L1395.6 1019.5L1396.8 1018.4L1399.6 1020.9L1400.1 1021.1L1402.1 1019.8L1405.6 1022.1L1406.1 1022.1L1408.8 1021.2L1412.6 1022.5L1416.7 1019.8L1418.6 1020.9L1422 1017L1423.5 1018.7L1423.5 1022.6Z" fill="#0000ff" stroke="#0000a8" stroke-width="0.45" stroke-linejoin="round" clip-path="url(#cp)"/>
<text x="73.3" y="1113.6" font-size="23.5">GSM2481685</text>
<path d="M259.2 1038 H270.95 V1176.5 H259.2" fill="none" stroke="#505050" stroke-width="1.05"/>
<text x="251.6" y="1041.4" font-size="12" text-anchor="end">6</text>
<text x="251.6" y="1179.6" font-size="12" text-anchor="end">0</text>
<path d="M270.9 1176.5L270.9 1116.3L271.6 1093.4L273.9 1127L276.9 1038L282.9 1162.6L283.4 1166.2L285.6 1121.1L289.2 1170.9L292.9 1148.8L295.8 1164.9L298.8 1148.8L303.9 1176.5L304.1 1176.5L308.1 1148.8L312.1 1176.5L314.1 1176.5L318.1 1148.8L322 1176.5L322.7 1176.5L326.7 1148.8L329.3 1161.9L332 1121.1L334.6 1147.3L337.3 1093.4L340.6 1159.3L343.9 1121.1L347.2 1159.3L350.6 1121.1L353.4 1153.8L353.9 1153.4L357.2 1038L360.5 1153.4L360.9 1154.8L363.8 1121.1L367.1 1167.2L370.5 1148.8L373.9 1169.7L377.8 1038L381.1 1149.7L383.1 1134.9L384.7 1144.7L386.4 1121.1L387.7 1134.1L389 1121.1L390.7 1134.1L392.3 1093.4L393.7 1134.1L395 1121.1L397 1135.3L399 1065.7L401 1135.3L403 1121.1L409.6 1176.5L410.9 1176.5L416.2 1093.4L419.2 1153.3L422.2 1121.1L428.8 1176.5L430.2 1176.5L435.5 1121.1L438.1 1161.9L440.8 1148.8L444.1 1169.7L444.4 1170.8L448.7 1093.4L455.4 1176.5L459.3 1148.8L463.3 1176.5L464 1176.5L469.3 1121.1L473.9 1169.6L477.2 1148.8L480.6 1176.5L481.2 1176.5L485.9 1121.1L492.5 1176.5L493.2 1176.5L497.1 1148.8L500.5 1167.9L503.8 1148.8L509.1 1176.5L511.9 1176.5L512.4 1176.5L517 1121.1L519.4 1141.3L521.7 1121.1L524.7 1153.3L527.7 1121.1L532.3 1169.6L535.6 1148.8L548.9 1176.5L549.5 1176.5L561.5 1148.8L565.1 1170.9L568.8 1148.8L574.1 1176.5L576.7 1176.5L582 1121.1L586 1173.9L590 1148.8L594 1176.5L595.3 1176.5L599.3 1148.8L603.3 1176.5L605.9 1176.5L609.9 1148.8L612.6 1161.9L615.2 1148.8L618.5 1176.5L623.8 1121.1L633.1 1176.5L635.1 1176.5L641.7 1148.8L645.7 1173.9L649.7 1148.8L653.7 1173.9L657.7 1148.8L660.3 1161.9L663 1148.8L666.3 1167.9L669.6 1121.1L674.9 1176.5L675.6 1176.5L680.9 1148.8L688.8 1176.5L691.5 1176.5L700.8 1121.1L707.4 1176.5L708.7 1176.5L712.7 1148.8L719.3 1176.5L724.6 1148.8L728.6 1176.5L729.3 1176.5L733.3 1121.1L738.6 1176.5L739.2 1176.5L742.6 1148.8L745.5 1164.9L748.5 1148.8L751.8 1167.9L755.2 1148.8L759.1 1176.5L761.1 1176.5L767.8 1093.4L773.1 1176.5L775.1 1176.5L780.4 1093.4L783.7 1159.3L787 1121.1L791 1171.3L794.9 1121.1L797.3 1158.9L799.6 1148.8L801.6 1155.9L803.6 1148.8L816.2 1176.5L816.8 1176.5L828.8 1148.8L832.1 1167.9L835.4 1148.8L839.1 1170.9L842.7 1038L844.4 1108.8L844.9 1108.6L845 1107.2L847.9 1144L848.7 1140.5L850.2 1148.9L851.6 1121.1L854.6 1153.3L857.6 1121.1L860.3 1147.3L862.9 1121.1L865.2 1141.3L867.6 1093.4L871.2 1165.3L874.8 1121.1L877.5 1147.3L880.2 1121.1L883.8 1170.9L887.4 1148.8L897.4 1176.5L908.7 1148.8L911.3 1176.5L912.7 1176.5L918 1121.1L924.6 1176.5L927.9 1176.5L933.2 1065.7L936.5 1158L939.8 1121.1L945.2 1176.5L949.1 1121.1L953.1 1171.3L957.1 1121.1L959.7 1147.3L962.4 1121.1L964.7 1158.9L967 1148.8L970.7 1170.9L974.3 1093.4L976.3 1114.7L978.3 1093.4L983 1176.5L983.6 1176.5L986.9 1148.8L990.3 1176.5L998.2 1093.4L1001.5 1150.7L1004.8 1093.4L1008.8 1175.9L1013.5 1148.8L1016.1 1161.9L1018.8 1148.8L1022.1 1167.9L1025.4 1148.8L1029.4 1176.5L1030.7 1176.5L1034 1148.8L1046.9 1175.7L1058.6 1148.8L1059.4 1150.7L1060.6 1121.1L1062.4 1157.7L1070.5 1176.5L1071.8 1176.5L1083.8 1148.8L1094.4 1176.5L1095.1 1176.5L1099 1148.8L1104.3 1176.5L1105 1176.5L1110.3 1148.8L1113.3 1164.9L1116.3 1121.1L1125.6 1176.5L1127.6 1176.5L1132.9 1148.8L1136.9 1169.9L1137.4 1166.4L1140.8 1121.1L1156.7 1176.5L1157.4 1176.5L1166.7 1148.8L1170 1176.5L1170.7 1176.5L1175.3 1121.1L1178.6 1167.2L1181.9 1148.8L1185.9 1173.9L1189.9 1148.8L1193.2 1167.9L1196.5 1148.8L1200.2 1170.9L1203.8 1148.8L1206.1 1158.9L1208.5 1121.1L1211.8 1159.3L1215.1 1121.1L1217.8 1147.3L1220.4 1093.4L1222.4 1135.3L1224.4 1121.1L1226.4 1135.3L1228.4 1121.1L1230.4 1135.3L1232.3 1093.4L1237.7 1176.5L1241 1148.8L1246.9 1173.4L1257.6 1121.1L1260.9 1167.9L1264.2 1148.8L1267.8 1170.9L1271.5 1121.1L1278.1 1176.5L1281.4 1176.5L1285.4 1121.1L1293.4 1176.5L1293.9 1176.5L1294 1176.5L1303.3 1121.1L1308 1176.5L1308.6 1176.5L1312.6 1121.1L1315.6 1164.9L1318.6 1148.8L1324.9 1175.2L1325.2 1174.9L1335.8 1148.8L1336.4 1149.8L1336.8 1148.8L1337.8 1121.1L1338.9 1151.5L1339.4 1154.8L1352.4 1176.5L1359 1148.8L1362.7 1170.9L1366.3 1148.8L1375.6 1176.5L1376.3 1176.5L1381.6 1093.4L1385.6 1164.6L1385.9 1167.1L1389.5 1121.1L1394.8 1176.5L1398.2 1148.8L1404.8 1176.5L1410.8 1148.8L1414.7 1173.9L1418.7 1148.8L1420.7 1155.9L1422.7 1148.8L1423.5 1165.4L1423.5 1176.5Z" fill="#0000ff" stroke="#0000a8" stroke-width="0.45" stroke-linejoin="round" clip-path="url(#cp)"/>
<text x="73.3" y="1267.6" font-size="23.5">GSM2481684</text>
<path d="M259.2 1191.9 H270.95 V1330.4 H259.2" fill="none" stroke="#505050" stroke-width="1.05"/>
<text x="251.6" y="1195.3" font-size="12" text-anchor="end">31</text>
<text x="251.6" y="1333.5" font-size="12" text-anchor="end">0</text>
<path d="M271.6 1330.4L271.6 1329.9L271.6 1316.6L274.3 1302.7L277.6 1247.3L279.3 1194.7L279.6 1191.9L279.9 1194.7L281.6 1247.3L284.2 1281.9L286.9 1295.8L288.9 1275L290.9 1281.9L292.9 1313.8L295.5 1322.1L299.5 1319.3L303.5 1323.5L306.1 1322.1L310.1 1330.4L313.9 1330.4L319.4 1322.1L324.8 1330.4L327.1 1330.4L331.3 1327.6L335.1 1330.1L335.6 1330.1L339.3 1327.6L343.5 1330.4L345.7 1330.4L349.9 1327.6L354.1 1330.4L356.4 1330.4L361.8 1322.1L364.1 1325.6L364.6 1326L366.5 1323.5L369.1 1327L371.1 1324.9L373.6 1327.6L375.1 1326.3L377.6 1328.6L382.4 1320.7L384.1 1323.6L384.6 1323.8L387 1319.3L389.1 1323.2L389.6 1323.1L391.7 1319.3L393.6 1322.9L394.1 1323.4L396.3 1319.3L399.6 1325.4L400.1 1325.8L403.6 1319.3L406.6 1324.8L407.1 1325.1L410.3 1319.3L416.3 1330.4L418 1330.4L422.9 1324.9L427.1 1329.8L427.6 1329.7L430.8 1327.6L435.1 1330.3L438.8 1329L441.6 1330L446.1 1324.9L450.1 1329.3L454 1324.9L455.6 1326.7L456.1 1327L459.3 1322.1L462.1 1326.2L463.3 1324.9L464.8 1326.5L465.1 1326.4L468 1322.1L473.4 1330.4L474.3 1330.4L478.6 1327.6L490.5 1329L522.3 1324.9L527.1 1330.1L530.3 1329L534.3 1330.4L539.3 1330.4L543.6 1327.6L546.6 1329.6L551.5 1322.1L556.1 1329.1L560.8 1322.1L565.6 1329.4L566.1 1330L568.8 1329L571.6 1330L575.4 1327.6L578.1 1329.4L582 1324.9L586.1 1329.5L586.6 1329.8L590 1327.6L593.1 1329.7L593.6 1329.8L598 1324.9L601.6 1329.1L602.1 1328.9L606.6 1322.1L611.1 1329L611.6 1329.1L613.9 1327.6L617.6 1330.1L618.1 1330.1L621.8 1327.6L625.1 1329.8L628.5 1327.6L632.9 1330.4L637.8 1324.9L641.6 1329.3L644.4 1327.6L648.1 1330.1L648.6 1330.1L652.3 1327.6L655.6 1329.8L656.1 1329.7L660.3 1324.9L663.6 1328.7L664.1 1328.6L665.6 1327.6L669.9 1330.4L670.7 1330.4L674.9 1327.6L677.6 1329.4L678.1 1329.3L682.9 1322.1L687.6 1329.4L688.1 1329.5L692.1 1324.9L696.6 1330L699.4 1329L702.6 1330.1L703.1 1329.6L708.1 1322.1L712.6 1329L714.7 1327.6L718.9 1330.3L722.7 1329L724.6 1329.7L725.1 1329.6L729.3 1324.9L733.3 1316.6L738.6 1327.7L739.1 1328.1L739.9 1327.6L742.1 1329.1L745.2 1326.3L745.6 1326.6L746.1 1326.8L749.2 1322.1L752.1 1326.6L752.6 1327L754.5 1324.9L758.1 1329L758.6 1329.3L761.1 1327.6L765.4 1330.4L766.3 1330.4L771.7 1322.1L776.1 1328.8L776.6 1329.2L779 1327.6L782.1 1329.7L782.6 1329.6L785.7 1327.6L789.9 1330.4L790.8 1330.4L795.6 1324.9L800.5 1330.4L800.8 1330.4L806.2 1322.1L810.1 1328L812.9 1324.9L816.6 1329.2L817.1 1329.2L819.5 1327.6L822.1 1329.4L822.6 1329.5L827.4 1322.1L830.6 1326.9L831.1 1326.7L832.8 1324.9L836.6 1329.3L839.4 1327.6L842.8 1329.9L843.1 1329.8L847 1326.3L847.1 1326.4L847.3 1326.3L847.6 1326.5L851.6 1319.3L853.1 1322.1L853.6 1321.8L854.9 1319.3L857.7 1324.3L858.1 1324.3L859.6 1322.1L864.6 1329.7L868.9 1324.9L872.6 1329.2L873.1 1329.1L876.8 1324.9L879.6 1328L883.5 1322.1L888.6 1330L888.9 1330.2L892.8 1327.6L896.1 1329.8L899.4 1327.6L902.6 1329.8L906 1327.6L908.6 1329.3L913.3 1322.1L916.1 1326.4L916.6 1326.4L918 1324.9L920.6 1327.9L922.8 1325.4L923.1 1324.8L927.9 1313.8L933.1 1325.8L933.6 1326.7L936.4 1330.4L939.6 1330.4L944.5 1324.9L947.1 1327.9L949.8 1324.9L952.6 1327.9L956.4 1322.1L960.1 1327.7L960.6 1327.7L963.1 1324.9L967.6 1330.1L972.3 1324.9L976.1 1329.2L976.6 1329.2L979 1327.6L981.6 1329.4L985.6 1324.9L989.6 1329.5L990.1 1329.8L992.2 1329L996.2 1330.4L998.6 1330.4L1002.9 1327.6L1007.1 1330.4L1009.2 1330.4L1013.5 1327.6L1017.6 1330.4L1021.4 1329L1025.4 1330.4L1027.8 1330.4L1032 1327.6L1036.3 1330.4L1036.7 1330.4L1040.7 1329L1044.6 1330.4L1045 1330.4L1049.3 1327.6L1053.5 1330.4L1055.7 1330.4L1059.9 1327.6L1062.6 1329.4L1063.1 1329.4L1065.9 1327.6L1066.1 1327.8L1066.6 1327.7L1071.2 1319.3L1075.8 1327.6L1079.6 1330.1L1080.1 1330.1L1083.8 1327.6L1088 1330.4L1089.5 1330.4L1094.4 1324.9L1098.1 1329.1L1098.6 1329.1L1102.3 1324.9L1106.1 1329.2L1106.6 1329.2L1109 1327.6L1113.1 1330.3L1116.9 1329L1120.9 1330.4L1126.7 1330.4L1131.5 1324.9L1136.1 1330.1L1140.2 1327.6L1144.4 1330.4L1146 1330.4L1151.4 1322.1L1154.6 1327L1155.1 1326.7L1156.7 1324.9L1161.1 1329.9L1164.7 1327.6L1167.1 1329.2L1167.6 1328.8L1172 1322.1L1177.1 1329.9L1177.4 1330L1181.9 1324.9L1186.6 1330.2L1189.9 1329L1194.1 1330.4L1194.3 1330.4L1199.2 1324.9L1203.6 1329.9L1207.1 1327.6L1209.6 1329.3L1210.1 1329L1213.8 1324.9L1217.6 1329.3L1218.1 1329.1L1220.4 1327.6L1224.7 1330.4L1225.4 1330.4L1229.7 1327.6L1233.9 1330.4L1236.2 1330.4L1241.6 1322.1L1246.6 1329.7L1247.1 1329.9L1249.6 1329L1253.5 1330.4L1254.8 1330.4L1260.2 1322.1L1265.1 1329.6L1266.8 1329L1270.1 1330.2L1274.8 1324.9L1279.1 1329.8L1279.6 1329.7L1282.8 1327.6L1284.6 1328.8L1288.1 1324.9L1292.6 1330.1L1296 1329L1298.6 1329.9L1299.1 1329.9L1302.7 1327.6L1306.9 1330.4L1308.4 1330.4L1312.6 1327.6L1316.1 1329.9L1321.2 1322.1L1326.1 1329.6L1329.2 1327.6L1333.1 1330.2L1337.1 1327.6L1341.6 1330.4L1346.4 1324.9L1350.6 1329.7L1351.1 1329.8L1354.4 1327.6L1358.6 1330.3L1362.3 1329L1366.1 1330.4L1370.3 1327.6L1372.6 1329.2L1373.1 1329.2L1376.9 1324.9L1380.6 1329.1L1381.1 1329.2L1383.6 1327.6L1386.1 1329.3L1386.6 1329L1390.2 1324.9L1394.1 1329.4L1398.2 1324.9L1402.1 1329.4L1402.6 1329.5L1405.5 1327.6L1409.1 1330L1409.6 1330.1L1412.8 1329L1414.6 1329.7L1415.1 1329.6L1418.1 1327.6L1422.3 1330.4L1422.3 1330.4Z" fill="#0000ff" stroke="#0000a8" stroke-width="0.45" stroke-linejoin="round" clip-path="url(#cp)"/>
<text x="73.3" y="1421.5" font-size="23.5">GSM2481683</text>
<path d="M259.2 1345.8 H270.95 V1484.3 H259.2" fill="none" stroke="#505050" stroke-width="1.05"/>
<text x="251.6" y="1349.2" font-size="12" text-anchor="end">12</text>
<text x="251.6" y="1487.4" font-size="12" text-anchor="end">0</text>
<path d="M270.9 1484.3L270.9 1434.2L271.6 1415.1L272.9 1423L273.3 1415.1L274.9 1345.8L276.9 1427.3L277.4 1431.1L278.3 1426.6L279.6 1435.3L280.9 1415.1L282.9 1455.7L284.9 1449.7L286.6 1454.9L288.2 1438.2L289.5 1445.1L290.9 1438.2L293.4 1473.4L293.9 1473.8L294.8 1472.8L296.9 1476.5L297.4 1473.7L300.2 1449.7L303.9 1474.2L304.4 1476.4L306.1 1472.8L309.4 1481.3L314.1 1461.3L318.1 1482L322 1461.3L326 1482L330 1461.3L333.3 1480.4L336.6 1472.8L339.9 1484.3L341.3 1484.3L345.3 1449.7L348.2 1473.6L351.2 1461.3L353.9 1476.8L354.4 1476.6L356.5 1472.8L359.8 1480.4L363.2 1461.3L365.8 1470.8L368.5 1449.7L370.5 1465.3L372.4 1461.3L374.4 1465.3L376.4 1461.3L381.4 1482.9L386.4 1461.3L388 1464.7L389.7 1449.7L391.4 1454.9L393 1449.7L395.3 1459.9L397.7 1438.2L400 1459.9L402.3 1449.7L404.3 1470L406.3 1467L408.6 1472.1L410.9 1461.3L414.2 1475.7L417.6 1449.7L419.5 1455.7L421.5 1415.1L424.2 1457.3L426.8 1438.2L433.5 1484.3L435.5 1484.3L442.1 1449.7L448.7 1484.3L449.4 1484.3L454 1461.3L457.7 1479.2L461.3 1461.3L465.3 1482L469.3 1461.3L475.9 1484.3L477.2 1484.3L481.2 1449.7L486.9 1479.3L487.4 1480L491.2 1461.3L495.2 1482L499.1 1461.3L505.8 1484.3L506.4 1484.3L514.4 1461.3L516.7 1476.2L519 1472.8L521.4 1476.2L523.7 1472.8L527.3 1481.8L531 1472.8L538.9 1484.3L548.2 1472.8L557.5 1484.3L558.8 1484.3L565.5 1461.3L569.1 1481.8L572.8 1472.8L576.7 1483.2L580.7 1472.8L584.4 1481.8L588 1461.3L592.4 1480.4L592.9 1481.2L598.6 1461.3L603.9 1484.3L606.6 1484.3L610.6 1426.6L612.9 1468L615.2 1461.3L618.2 1473.6L621.2 1438.2L623.2 1465.3L625.2 1461.3L627.8 1470.8L630.5 1438.2L632.8 1468L635.1 1461.3L638.4 1476.4L641.7 1461.3L645.1 1476.4L648.4 1449.7L652.4 1479.8L652.9 1479.1L656.3 1461.3L659 1477.6L661.6 1472.8L664.9 1480.4L668.3 1472.8L671.9 1481.6L675.6 1449.7L678.9 1472.4L682.2 1438.2L688.8 1484.3L692.8 1472.8L696.8 1483.2L700.8 1449.7L703.1 1468L705.4 1461.3L708.1 1477.6L710.7 1472.8L716.4 1482.7L722.7 1461.3L725 1468L727.3 1461.3L730.3 1479L733.3 1472.8L737.2 1483.2L741.2 1438.2L746.5 1484.3L749.8 1461.3L753.5 1481.8L757.1 1472.8L761.1 1484.3L766.4 1449.7L769.7 1476.4L773.1 1461.3L775.7 1470.8L778.4 1449.7L780.7 1468L783 1461.3L787.4 1479.9L790.3 1472.8L793.6 1480.4L796.9 1449.7L800.3 1476.4L803.6 1461.3L807.6 1484.3L808.2 1484.3L812.2 1461.3L817.5 1484.3L820.8 1472.8L824.8 1483.2L828.8 1461.3L832.4 1481.8L836.1 1472.8L839.1 1479L842 1472.8L844.5 1476.8L847 1461.3L847.8 1464.7L848.7 1461.3L849.8 1464.7L851 1461.3L853.3 1476.2L855.6 1472.8L858.6 1479L861.6 1472.8L865.6 1484.3L870.2 1461.3L874.8 1484.3L875.5 1484.3L879.5 1461.3L886.1 1484.3L886.8 1484.3L897.4 1449.7L901.4 1484.3L903.4 1484.3L908.7 1449.7L911 1468L913.3 1461.3L916.6 1476.4L919.9 1461.3L926.6 1484.3L927.2 1484.3L931.2 1461.3L933.9 1470.8L936.5 1438.2L942.4 1479L942.9 1480.6L948.5 1461.3L952.4 1482L956.4 1449.7L959.4 1468.2L962.4 1449.7L965.1 1470.8L967.7 1461.3L969.4 1464.7L971 1461.3L973.7 1470.8L976.3 1461.3L979.6 1480.4L983 1472.8L985.9 1479L988.9 1461.3L992.6 1479.2L996.2 1461.3L999.5 1480.4L1002.9 1472.8L1006.5 1481.5L1010.2 1449.7L1012.5 1476.2L1014.8 1472.8L1017.8 1479L1020.8 1472.8L1028.7 1484.3L1029.4 1484.3L1037.3 1472.8L1041.3 1484.3L1042 1484.3L1046 1472.8L1049.3 1480.4L1052.6 1472.8L1055.6 1479L1058.6 1472.8L1062.6 1483.2L1066.5 1461.3L1068.2 1464.7L1069.8 1461.3L1075.2 1484.3L1080.5 1461.3L1083.8 1476.4L1087.1 1461.3L1100.4 1484.3L1109 1472.8L1112.3 1480.4L1115.6 1449.7L1117.6 1465.3L1119.6 1461.3L1125.9 1483.2L1132.2 1461.3L1139.5 1482.4L1139.9 1482.8L1148.8 1449.7L1153.4 1484.3L1155.4 1484.3L1160.7 1461.3L1162.7 1465.3L1164.7 1461.3L1170 1484.3L1174 1461.3L1177.6 1479.2L1181.3 1461.3L1183.3 1465.3L1185.3 1461.3L1187.9 1477.6L1190.6 1472.8L1198.5 1484.3L1205.2 1461.3L1209.9 1481.9L1210.4 1481.3L1219.1 1438.2L1227 1484.3L1229.7 1461.3L1231.7 1465.3L1233.7 1449.7L1235 1454.9L1236.3 1438.2L1239.6 1476.4L1243 1461.3L1247.6 1481.4L1250.9 1472.8L1258.9 1484.3L1266.8 1472.8L1269.5 1484.3L1271.5 1484.3L1275.5 1449.7L1278.4 1479L1281.4 1472.8L1291.4 1483.6L1291.9 1483.6L1299.3 1472.8L1302.7 1480.4L1306 1461.3L1313.9 1484.3L1317.9 1484.3L1327.2 1472.8L1332.9 1482.7L1333.4 1482.4L1337.8 1472.8L1343.1 1484.3L1347.1 1472.8L1349.4 1476.2L1351.7 1472.8L1354.1 1476.2L1356.4 1472.8L1359.4 1479L1362.3 1472.8L1379.6 1484.3L1395.5 1472.8L1398.2 1477.6L1400.8 1461.3L1403.5 1477.6L1406.1 1472.8L1408.4 1476.2L1410.8 1472.8L1414.4 1481.8L1418.1 1472.8L1422 1484.3L1422 1484.3Z" fill="#0000ff" stroke="#0000a8" stroke-width="0.45" stroke-linejoin="round" clip-path="url(#cp)"/>
<text x="73.3" y="1575.4" font-size="23.5">GSM2481682</text>
<path d="M259.2 1499.8 H270.95 V1638.3 H259.2" fill="none" stroke="#505050" stroke-width="1.05"/>
<text x="251.6" y="1503.2" font-size="12" text-anchor="end">52</text>
<text x="251.6" y="1641.4" font-size="12" text-anchor="end">0</text>
<path d="M271.6 1638.3L271.6 1637.9L271.6 1627.2L274.3 1596.7L276.9 1534.4L278.9 1499.8L280.3 1503.9L282.2 1548.2L284.2 1580.1L286.2 1577.3L288.2 1596.7L290.2 1610.6L292.9 1624.4L299.5 1631.3L304.8 1635.5L308.8 1638.3L310.3 1638.3L315.4 1631.3L318.1 1635L318.6 1634.8L319.4 1634.1L323.9 1638.3L327.4 1638.3L331.3 1636.9L335.3 1638.3L337.2 1638.3L342.6 1630L346.1 1635.3L346.6 1635.3L347.9 1634.1L352.5 1638.3L353.9 1638.3L357.9 1636.9L361.8 1638.3L365.8 1638.3L369.8 1636.9L373.2 1638.1L373.6 1637.9L377.8 1634.1L380.1 1636.1L383.1 1632.7L384.6 1634.5L387 1631.3L387.9 1632.5L388.1 1632.5L391 1627.2L394.1 1632.9L394.6 1632.7L395.7 1631.3L398.1 1634.5L399.6 1632.7L401.6 1634.9L404.3 1631.3L406.6 1634.5L407.1 1634.8L408.9 1632.7L411.6 1635.8L413.6 1634.1L416.1 1636.4L418.9 1634.1L423.4 1638.3L427.5 1636.9L431.3 1638.2L436.1 1632.7L440.6 1637.8L444.1 1635.5L448.3 1638.3L449.5 1638.3L454 1634.1L456.1 1636L456.6 1636.1L460.7 1630L465.6 1637.5L467.3 1636.9L471.2 1638.3L473.4 1638.3L478.6 1631.3L483.7 1638.3L486 1638.3L490.5 1634.1L495.1 1638.3L496.3 1638.3L501.8 1630L506.6 1637.3L507.8 1636.9L511.7 1638.3L513.1 1638.3L517 1636.9L521 1638.3L522.7 1638.3L527 1635.5L531.2 1638.3L533 1638.3L536.9 1636.9L539.6 1637.8L544.2 1632.7L548.1 1637.2L548.6 1637.4L550.2 1636.9L551.1 1637.2L551.6 1636.9L556.2 1630L560.6 1636.7L563.5 1634.1L567.6 1637.9L571.4 1635.5L575.7 1638.3L577.2 1638.3L582 1632.7L585.1 1636.1L587.3 1634.1L591.9 1638.3L592.7 1638.3L596.6 1636.9L600.6 1638.3L604.6 1638.3L608.6 1636.9L612.5 1638.3L613 1638.3L617.9 1632.7L622.6 1638.2L626.5 1636.9L628.6 1637.6L633.8 1630L638.6 1637.4L640.4 1636.9L642.6 1637.5L646.4 1634.1L647.6 1635.2L651 1630L655.1 1636.2L655.6 1636L657.7 1634.1L660.1 1636.4L660.6 1636.3L663 1634.1L665.6 1636.5L668.3 1634.1L671.6 1637.2L672.1 1637.3L674.9 1635.5L677.6 1637.2L681.5 1632.7L684.1 1635.7L686.8 1632.7L689.1 1635.3L692.1 1631.3L695.1 1635.4L698.8 1630L702.1 1635.1L702.6 1635.2L704.7 1632.7L709.1 1637.7L709.6 1638L712.7 1636.9L716.8 1638.3L721.3 1634.1L725.6 1638L729.3 1636.9L733.2 1638.3L734.7 1638.3L739.2 1634.1L743.8 1638.3L744.9 1638.3L749.2 1635.5L753.4 1638.2L757.1 1636.9L761.1 1638.3L762.5 1638.3L766.4 1636.9L770.1 1638.2L774.4 1635.5L778.6 1638.3L779.7 1638.3L783.7 1636.9L787.6 1638.3L788.3 1638.3L792.3 1636.9L796.2 1638.3L801.1 1638.3L806.2 1631.3L810.1 1636.6L812.9 1634.1L817.4 1638.3L818.2 1638.3L822.1 1636.9L826.1 1638.3L828.1 1638.3L832.1 1636.9L836 1638.3L837.8 1638.3L842 1635.5L845.6 1637.8L848.3 1636.9L852.3 1638.3L858.4 1638.3L862.9 1634.1L867.5 1638.3L870.9 1638.3L874.8 1636.9L878.3 1638.1L878.6 1637.9L882.8 1634.1L884.6 1635.8L885.1 1635.9L889.4 1628.6L893.1 1634.8L893.6 1635.1L894.7 1634.1L897.6 1636.7L898.1 1636.5L900.7 1634.1L905.3 1638.3L907.4 1638.3L911.3 1636.9L915.3 1638.3L918.1 1638.3L922.6 1634.1L927.1 1638.3L928.6 1638.3L932.6 1636.9L936.5 1638.3L938.6 1638.3L942.5 1636.9L946.4 1638.3L949.2 1638.3L953.1 1636.9L957.1 1638.3L959.1 1638.3L963.1 1636.9L965.1 1637.5L969.7 1631.3L973.1 1635.8L975 1634.1L979.5 1638.3L980.3 1638.3L984.3 1636.9L988.2 1638.3L992.3 1638.3L996.2 1636.9L1000.2 1638.3L1003.6 1638.3L1007.5 1636.9L1011.6 1638.3L1016.1 1634.1L1020.7 1638.3L1021.2 1638.3L1025.4 1635.5L1028.6 1637.6L1030.7 1636.9L1034.7 1638.3L1036.8 1638.3L1041.3 1634.1L1045.9 1638.3L1046.7 1638.3L1050.6 1636.9L1054.6 1638.3L1056.3 1638.3L1060.6 1635.5L1064.1 1637.8L1064.6 1637.5L1069.2 1631.3L1073.6 1637.3L1077.1 1634.1L1081.7 1638.3L1083.1 1638.3L1087.1 1636.9L1091 1638.3L1094.5 1638.3L1099 1634.1L1101.1 1636L1101.6 1636L1103.7 1634.1L1108.2 1638.3L1109.1 1638.3L1113.6 1634.1L1118.2 1638.3L1119.6 1638.3L1123.6 1636.9L1127.5 1638.3L1129.6 1638.3L1133.5 1636.9L1137.5 1638.3L1140.8 1638.3L1144.8 1636.9L1148.9 1638.3L1153.4 1634.1L1157.1 1637.5L1157.6 1637.3L1162 1631.3L1165.6 1636.2L1166.1 1636.4L1168.7 1634.1L1173.1 1638.1L1176.6 1636.9L1180.6 1638.3L1182 1638.3L1186.6 1634.1L1188.6 1636L1189.1 1636L1191.2 1634.1L1195.8 1638.3L1199.8 1636.9L1203.8 1638.3L1205.8 1638.3L1209.8 1636.9L1213.7 1638.3L1217.5 1638.3L1221.7 1635.5L1223.1 1636.4L1227 1631.3L1230.6 1636.2L1234.3 1631.3L1238.6 1637.1L1239.1 1637.3L1240.3 1636.9L1241.1 1637.2L1241.6 1636.7L1245.6 1631.3L1249.1 1636.1L1249.6 1635.8L1252.9 1631.3L1257.1 1637L1257.6 1637.3L1258.9 1636.9L1259.1 1637L1259.6 1636.6L1263.5 1631.3L1265.1 1633.5L1265.6 1633.9L1267.5 1631.3L1272.1 1637.6L1272.6 1637.6L1274.8 1636.9L1278.2 1638.1L1278.6 1637.9L1282.8 1634.1L1285.1 1636.3L1285.6 1636.4L1289.4 1631.3L1294.1 1637.6L1296 1636.9L1300 1638.3L1302 1638.3L1306 1636.9L1309.1 1638L1312.6 1636.9L1316.5 1638.3L1318.6 1638.3L1322.6 1636.9L1326.5 1638.3L1328.6 1638.3L1332.5 1636.9L1336.4 1638.3L1338.5 1638.3L1342.4 1636.9L1346.4 1638.3L1348.5 1638.3L1352.4 1636.9L1356.3 1638.3L1357.1 1638.3L1361 1636.9L1365 1638.3L1366.4 1638.3L1370.3 1636.9L1374.3 1638.3L1375.6 1638.3L1379.6 1636.9L1383.5 1638.3L1384.9 1638.3L1388.9 1636.9L1392.8 1638.3L1396.3 1638.3L1400.8 1634.1L1405.1 1638.1L1405.4 1638.1L1408.8 1636.9L1411.6 1637.9L1415.4 1635.5L1417.6 1636.9L1418.1 1637.1L1421.4 1634.1L1423.5 1636.1L1423.5 1638.3Z" fill="#0000ff" stroke="#0000a8" stroke-width="0.45" stroke-linejoin="round" clip-path="url(#cp)"/>
<text x="73.3" y="1729.4" font-size="23.5">GSM2481681</text>
<path d="M259.2 1653.7 H270.95 V1792.2 H259.2" fill="none" stroke="#505050" stroke-width="1.05"/>
<text x="251.6" y="1657.1" font-size="12" text-anchor="end">69</text>
<text x="251.6" y="1795.3" font-size="12" text-anchor="end">0</text>
<path d="M462 1792.2L462 1792.2L656.3 1653.7L658.5 1731.9L660.3 1653.7L848.3 1792.2L1035.5 1653.7L1037.1 1747.9L1039.1 1653.7L1233 1792.2L1233 1792.2Z" fill="#0000ff" stroke="#0000a8" stroke-width="0.45" stroke-linejoin="round" clip-path="url(#cp)"/>
<path d="M658.5 1732V1792.2" stroke="#0000a0" stroke-width="0.9" fill="none"/>
<path d="M1037.1 1747.9V1792.2" stroke="#0000a0" stroke-width="0.9" fill="none"/>
<text x="73.3" y="1883.3" font-size="23.5">GSM2481680</text>
<path d="M259.2 1807.6 H270.95 V1946.1 H259.2" fill="none" stroke="#505050" stroke-width="1.05"/>
<text x="251.6" y="1811" font-size="12" text-anchor="end">79</text>
<text x="251.6" y="1949.2" font-size="12" text-anchor="end">0</text>
<path d="M291.5 1946.1L291.5 1946.1L318.1 1876.9L342.6 1946.1L365.2 1876.9L438.8 1946.1L513.1 1876.9L666.9 1946.1L822.1 1876.9L932.6 1946.1L1043.9 1876.9L1045.5 1918.7L1047.7 1876.9L1135.5 1946.1L1223 1876.9L1224.5 1807.6L1226.8 1876.9L1325.9 1946.1L1325.9 1946.1Z" fill="#0000ff" stroke="#0000a8" stroke-width="0.45" stroke-linejoin="round" clip-path="url(#cp)"/>
<path d="M1045.5 1918.7V1946.1" stroke="#0000a0" stroke-width="0.9" fill="none"/>
<text x="73.3" y="2037.2" font-size="23.5">GSM2481679</text>
<path d="M259.2 1961.6 H270.95 V2100.1 H259.2" fill="none" stroke="#505050" stroke-width="1.05"/>
<text x="251.6" y="1965" font-size="12" text-anchor="end">111</text>
<text x="251.6" y="2103.2" font-size="12" text-anchor="end">0</text>
<path d="M328 2100.1L328 2100.1L388.4 2054.4L412.2 2100.1L434.8 2053.5L436.2 2086.3L437.9 2053.9L545.6 2100.1L651.7 2054.4L693.5 2100.1L733.2 2053.5L734.5 1961.6L737.1 2008L894.7 2100.1L1053.3 2054.4L1240.3 2100.1L1240.3 2100.1Z" fill="#0000ff" stroke="#0000a8" stroke-width="0.45" stroke-linejoin="round" clip-path="url(#cp)"/>
<path d="M436.2 2086.3V2100.1" stroke="#0000a0" stroke-width="0.9" fill="none"/>
<text x="73.3" y="2191.1" font-size="23.5">GSM2481678</text>
<path d="M259.2 2115.5 H270.95 V2254 H259.2" fill="none" stroke="#505050" stroke-width="1.05"/>
<text x="251.6" y="2118.9" font-size="12" text-anchor="end">58</text>
<text x="251.6" y="2257.1" font-size="12" text-anchor="end">0</text>
<path d="M274.3 2254L274.3 2254L279.3 2184.7L306.8 2254L334.6 2184.7L344.6 2254L354 2184.7L359.2 2254L364.5 2184.7L368.5 2254L371.8 2184.7L381.1 2254L390.4 2184.7L553.5 2254L714.7 2184.7L792.3 2254L872.2 2184.7L881.5 2249.8L891.4 2184.7L899.4 2249.8L906.7 2184.7L1041.3 2254L1174.7 2184.7L1180.4 2244.3L1185.7 2184.7L1187.5 2115.5L1189.8 2184.7L1307.3 2254L1307.3 2254Z" fill="#0000ff" stroke="#0000a8" stroke-width="0.45" stroke-linejoin="round" clip-path="url(#cp)"/>
<text x="73.3" y="2345.1" font-size="23.5">GSM2481677</text>
<path d="M259.2 2269.4 H270.95 V2407.9 H259.2" fill="none" stroke="#505050" stroke-width="1.05"/>
<text x="251.6" y="2272.8" font-size="12" text-anchor="end">11</text>
<text x="251.6" y="2411" font-size="12" text-anchor="end">0</text>
<path d="M270.9 2407.9L270.9 2377.9L271.6 2373.3L273.3 2378.5L274.9 2347L277.4 2392L277.9 2394.5L278.3 2394.1L279.6 2396.1L280.9 2391.3L282.2 2393.8L283.6 2391.3L285.2 2400.9L286.9 2399.6L292.2 2407.9L294.2 2407.9L299.5 2391.3L304.4 2406.7L308.1 2402.4L312.9 2407.2L318.1 2391.3L321.7 2404.2L325.4 2391.3L328.3 2400.2L331.3 2391.3L334.6 2405.1L338 2399.6L343.3 2407.9L347.2 2381.6L349.2 2386.2L351.2 2381.6L354.4 2402.4L356.5 2399.6L361.2 2407.2L361.4 2406.6L365.8 2381.6L367.8 2394.2L369.8 2391.3L373.1 2402.2L376.4 2391.3L378.4 2394.2L380.4 2381.6L384.1 2404.2L387.7 2391.3L390.4 2398.2L393 2381.6L394.7 2385.6L396.3 2381.6L397.4 2384.2L397.9 2382.9L399.6 2355.3L401.4 2383.2L401.9 2384.1L403 2381.6L405.9 2401.1L406.4 2402L408.3 2399.6L409.9 2401.7L413.6 2347L416.4 2390.3L416.9 2394.9L417.6 2394.1L422.4 2406.7L422.9 2406.5L426.2 2399.6L431.5 2407.9L436.1 2391.3L436.9 2392.5L437.4 2391.9L439.4 2366.4L440.4 2370.9L440.8 2366.4L442.1 2338.7L443.9 2376.4L444.4 2382.6L444.7 2381.6L446.1 2385.6L447.4 2381.6L449.4 2397.5L449.9 2400.2L450.7 2399.6L456 2407.9L458 2407.9L462.7 2391.3L466 2402.2L469.3 2391.3L471.3 2396.5L473.3 2394.1L477.9 2405.8L481.2 2399.6L484.2 2405.3L487.2 2402.4L489.5 2404L491.8 2399.6L494.5 2403.1L497.1 2399.6L501.1 2407.9L502.4 2407.9L507.1 2399.6L511.7 2407.9L512.4 2407.9L517 2399.6L521 2406.7L525 2391.3L530.3 2407.9L531.6 2407.9L536.9 2399.6L540.9 2407.9L541.6 2407.9L545.6 2391.3L549.5 2407.9L550.2 2407.9L554.2 2391.3L558.2 2407.1L562.1 2399.6L564.9 2403.7L565.1 2403.8L568.1 2391.3L571.1 2400.2L574.1 2391.3L577.7 2404.2L581.4 2365L583.4 2386.2L585.4 2381.6L588.3 2395.7L591.3 2381.6L593 2396.1L594.6 2394.1L596.3 2396.1L598 2381.6L599.9 2394.2L601.9 2391.3L604.3 2400.1L606.6 2396.8L613.2 2407.9L613.9 2407.9L618.5 2391.3L623.8 2407.9L626.4 2407.9L630.5 2399.6L632.9 2403.2L633.4 2401.6L636.4 2381.6L638.4 2386.2L640.4 2365L642.1 2385.5L643.7 2381.6L646.7 2395.7L649.7 2381.6L651.7 2390.8L653.7 2387.1L655.7 2394.2L657.7 2391.3L660.4 2402.8L663 2399.6L666.9 2405.8L667.4 2405.2L670.9 2391.3L673.2 2396.2L675.6 2373.3L677.2 2385.5L678.9 2381.6L680.5 2385.5L682.2 2365L684.4 2393L685.5 2391.3L690.8 2407.9L696.1 2399.6L698.9 2404.2L699.4 2403.3L702.8 2391.3L707.4 2407.9L708.1 2407.9L711.4 2391.3L713 2393.8L714.7 2381.6L716.7 2396.5L718.7 2394.1L720.7 2396.5L722.7 2391.3L725 2402.1L727.3 2399.6L730.9 2406.1L734.6 2399.6L737.9 2405.1L741.2 2399.6L746.5 2407.9L747.9 2407.9L752.5 2391.3L755.4 2400.8L755.8 2399.4L759.1 2356.7L760.8 2364.4L762.4 2338.7L763.9 2347.8L764.1 2347.3L765.8 2304.1L767.9 2359.8L768.4 2358.5L769.1 2355.3L771.9 2392L772.4 2391.3L776 2406.1L779.7 2399.6L783.7 2407.9L789 2381.6L790.6 2385.5L792.3 2365L793.4 2369.3L793.9 2363.7L795.6 2330.4L796.9 2356.1L798.3 2347L799.6 2356.1L800.9 2338.7L802.6 2371.4L804.2 2365L806.4 2393L807.6 2391.3L810.4 2400.7L810.9 2400.8L814.2 2365L817.4 2399.7L817.9 2400.6L818.8 2399.6L820.9 2402.3L821.4 2401.8L824.1 2373.3L826.5 2397.5L826.9 2397.4L828.8 2394.1L834.1 2407.9L838.7 2399.6L842.7 2406.7L842.9 2406.8L845.9 2389.8L847 2381.6L847.2 2382.6L847.3 2381.6L848.8 2385.6L850.3 2381.6L852.3 2396.5L854.3 2394.1L857.6 2405.1L860.9 2399.6L864.2 2407.9L865.6 2407.9L869.5 2365L872.9 2401L874.2 2399.6L878.2 2407.9L878.8 2407.9L883.5 2391.3L885.5 2394.2L887.4 2381.6L890.1 2402.7L890.4 2402.7L892.8 2399.6L895.1 2402.1L897.4 2399.6L900.4 2404.1L903.4 2381.6L905.9 2401.7L906.4 2403.5L908 2402.4L910 2404.1L910.4 2402.7L913.3 2365L915.9 2398.4L916.4 2399.8L916.6 2399.6L919.4 2404.2L923.3 2338.7L924.9 2349.1L926.6 2297.1L927.9 2313.7L929.2 2269.4L930.6 2304.3L931.9 2286L933.9 2347.7L934.4 2353.4L934.5 2352.5L937.4 2400L939.4 2403.5L939.9 2403.2L944.5 2373.3L946.4 2378.7L948.5 2347L950.1 2356.1L951.8 2338.7L953.4 2363.2L955.1 2355.3L956.9 2382.9L957.8 2380.2L959.4 2384.4L961.1 2373.3L962.7 2385.6L964.4 2381.6L966 2393.8L967.7 2391.3L969.4 2393.8L971 2381.6L973.9 2400.6L974.4 2400.9L975.7 2399.6L978.3 2403.1L981 2399.6L985.4 2407.1L989.6 2399.6L992.9 2405.1L996.2 2391.3L999.4 2402.4L1001.5 2399.6L1005.9 2406.5L1006.4 2406.3L1009.5 2402.4L1012.4 2405.6L1012.8 2405.2L1016.1 2391.3L1018.1 2394.2L1020.1 2391.3L1022.1 2394.2L1024.1 2381.6L1026.4 2400L1026.9 2401.5L1028.7 2399.6L1031.7 2404.1L1034.7 2373.3L1036.7 2394.1L1038.7 2391.3L1040.7 2394.2L1042.7 2381.6L1045 2400L1047.3 2396.8L1051.9 2406.5L1052.4 2405.9L1055.9 2399.6L1059.9 2406.7L1060.4 2406.1L1063.9 2399.6L1066.9 2404.1L1069.8 2381.6L1072.4 2401.9L1072.9 2403.5L1074.5 2402.4L1077.4 2405.2L1080.5 2373.3L1082.9 2398.8L1083.4 2401.4L1085.1 2399.6L1088.4 2405.1L1091.7 2391.3L1094.4 2398.2L1097 2381.6L1099.9 2404.3L1100.4 2404.1L1102.3 2402.4L1106.3 2407.9L1107 2407.9L1114.9 2391.3L1124.2 2407.9L1125.6 2407.9L1128.9 2399.6L1131.4 2403.3L1134.8 2373.3L1136.8 2379.3L1138.8 2373.3L1141.1 2396.2L1143.5 2391.3L1148.8 2407.9L1153.4 2381.6L1156.1 2399.8L1158.7 2394.1L1162 2405.6L1162.4 2406.1L1167.3 2381.6L1171 2402L1174.6 2381.6L1177 2396.2L1179.3 2391.3L1180.9 2393.8L1182.6 2391.3L1184.6 2394.2L1186.6 2381.6L1188.9 2398.1L1191.2 2394.1L1195.4 2405L1195.9 2403.8L1199.2 2391.3L1202.2 2400.2L1205.2 2391.3L1208.8 2404.2L1212.4 2391.3L1214.1 2393.8L1215.8 2391.3L1218.8 2404.1L1221.7 2399.6L1229.7 2407.9L1235 2394.1L1238 2401.3L1241 2381.6L1243.4 2400.7L1244.9 2399.6L1248.9 2407.1L1252.9 2391.3L1255.2 2396.2L1257.6 2391.3L1260.2 2404.6L1262.9 2402.4L1265.5 2405.3L1265.9 2404.5L1269.5 2373.3L1271.5 2390.8L1273.5 2387.1L1275.5 2394.2L1277.4 2391.3L1280.1 2398.2L1282.8 2381.6L1285.4 2402.7L1285.9 2402.4L1288.1 2399.6L1292 2406.7L1292.4 2406.4L1296 2399.6L1297.9 2402.1L1298.4 2401L1301.3 2381.6L1303.9 2402L1304.4 2403.5L1306 2402.4L1311.3 2407.9L1314.6 2407.9L1319.9 2399.6L1323.9 2405.9L1324.4 2405.8L1327.9 2399.6L1331.8 2407.9L1332.5 2407.9L1336.5 2381.6L1338.9 2400.8L1339.4 2403.6L1341.1 2402.4L1342.9 2403.6L1343.4 2403.2L1345.8 2391.3L1348.8 2400.2L1351.7 2381.6L1353.9 2398.8L1354.4 2400.6L1355.7 2399.6L1359.4 2406.1L1363 2391.3L1365.4 2403.3L1365.9 2403.6L1367.7 2402.4L1369.4 2403.9L1369.9 2404.1L1373 2391.3L1375.9 2400.2L1378.9 2387.1L1380.6 2390.3L1382.2 2381.6L1384.6 2398.1L1386.9 2394.1L1391.9 2407.1L1395.5 2399.6L1398.9 2406L1399.4 2405.9L1403.5 2391.3L1406.4 2403.5L1406.9 2404L1408.8 2402.4L1412.1 2406L1415.4 2399.6L1417.7 2402.1L1420.1 2391.3L1421.7 2393.8L1423.4 2391.3L1423.5 2393L1423.5 2407.9Z" fill="#0000ff" stroke="#0000a8" stroke-width="0.45" stroke-linejoin="round" clip-path="url(#cp)"/>
<text x="73.3" y="2499" font-size="23.5">GSM2481676</text>
<text x="73.3" y="2652.9" font-size="23.5">GSM2481675</text>
<path d="M259.2 2577.3 H270.95 V2715.8 H259.2" fill="none" stroke="#505050" stroke-width="1.05"/>
<text x="251.6" y="2580.7" font-size="12" text-anchor="end">12</text>
<text x="251.6" y="2718.9" font-size="12" text-anchor="end">0</text>
<path d="M273 2715.8L273 2715.8L276.9 2688.1L279.6 2709.3L279.9 2710.2L282.9 2660.4L285.6 2706L288.2 2660.4L291.2 2710.2L291.5 2709.8L294.2 2688.1L304.8 2715.8L306.1 2715.8L316.1 2688.1L316.5 2686.5L317.4 2660.4L318.5 2689.9L319 2694.8L328 2715.8L329.3 2715.8L338 2632.7L343.3 2715.8L344.6 2715.8L347.2 2688.1L356.5 2715.8L365.2 2660.4L372.4 2715.8L373.8 2715.8L377.8 2688.1L381.1 2712.9L384.4 2688.1L392.3 2715.8L394.3 2715.8L401 2688.1L403.5 2708.9L404 2706.1L411.6 2632.7L413.6 2695L414 2699.4L415.6 2674.2L416.6 2692.8L417 2691.7L418.9 2577.3L421 2697.3L422.2 2674.2L423.5 2696.9L425.5 2632.7L427.5 2695L428 2704.1L429.5 2688.1L431.8 2708.9L434.1 2660.4L436.5 2709L438.8 2688.1L460.7 2715.8L462 2715.8L481.9 2688.1L484.9 2711.9L487.9 2660.4L489.2 2697.3L489.5 2699.1L490.5 2688.1L502.4 2715.8L503.8 2715.8L515.7 2688.1L517.7 2708.9L519.7 2688.1L527 2715.8L527.7 2715.8L534.3 2688.1L538.3 2714.9L542.2 2688.1L555.5 2715.8L556.8 2715.8L568.8 2660.4L580.1 2715.8L582 2715.8L590 2688.1L593.6 2713.9L597.3 2688.1L600.6 2712.9L603.9 2688.1L610.6 2715.8L616.5 2688.1L623.2 2715.8L629.1 2688.1L634.4 2715.8L635.1 2715.8L643.1 2660.4L645.1 2702L647 2660.4L649 2701.9L649.5 2704.4L651 2688.1L656.3 2715.8L657 2715.8L663 2688.1L667.6 2715.8L672.2 2660.4L675.6 2706.5L676 2709.9L678.9 2688.1L683.5 2712.3L684 2713.2L688.2 2688.1L690.8 2710.2L693.5 2660.4L695.8 2708.9L698.1 2688.1L700.4 2709.9L702.8 2688.1L709.4 2715.8L716 2688.1L724 2715.8L724.6 2715.8L733.3 2688.1L738.6 2715.8L742.6 2688.1L744.2 2708.7L745.9 2688.1L759.1 2715.8L772.4 2688.1L779 2715.8L780.4 2715.8L785.7 2688.1L789.6 2715.8L790.3 2715.8L794.3 2688.1L798.3 2715.8L798.9 2715.8L802.9 2632.7L807.6 2715.8L808.9 2715.8L812.9 2688.1L828.8 2715.8L830.1 2715.8L844 2691.7L845 2688.1L845.5 2689L846 2688.1L847 2691.8L859.6 2715.8L860.9 2715.8L874.8 2688.1L879.5 2715.8L884.1 2715.8L889.4 2632.7L891.5 2696L892 2690.9L893.4 2660.4L895.5 2701.7L898.1 2688.1L911.3 2715.8L912.7 2715.8L928.6 2688.1L944.5 2715.8L947.8 2715.8L963.1 2688.1L963.5 2686.2L964.4 2660.4L967 2704.4L967.7 2707.5L968 2707.2L970.4 2688.1L974 2712.4L978.3 2660.4L982.3 2714.1L986.3 2660.4L1000.9 2715.8L1002.9 2715.8L1016.1 2660.4L1018.5 2699.4L1020.8 2632.7L1023 2701.4L1024.1 2688.1L1027.4 2712.9L1030.7 2688.1L1036 2715.8L1036.7 2715.8L1042 2660.4L1043.6 2701.7L1045.3 2660.4L1049 2712.1L1052.6 2660.4L1056.2 2712.1L1059.9 2660.4L1062.5 2696L1063 2694.5L1063.9 2688.1L1080.5 2715.8L1081.8 2715.8L1097 2688.1L1098 2696.6L1099.7 2660.4L1101.4 2701.7L1103 2660.4L1107 2715.8L1109 2715.8L1113 2688.1L1116.9 2715.8L1117.6 2715.8L1121.6 2660.4L1126.2 2715.8L1126.9 2715.8L1130.9 2688.1L1136.2 2715.8L1136.8 2715.8L1141.5 2688.1L1153.4 2715.8L1154.7 2715.8L1167.3 2660.4L1176.6 2715.8L1179.3 2715.8L1185.9 2688.1L1188.9 2711.9L1191.9 2660.4L1197.2 2715.8L1198.5 2715.8L1204.5 2688.1L1211.8 2715.8L1213.1 2715.8L1220.4 2688.1L1228.4 2715.8L1229.7 2715.8L1237.7 2688.1L1244.3 2715.8L1246.3 2715.8L1251.6 2660.4L1255.6 2714.9L1259.5 2688.1L1262.5 2711.9L1265.5 2688.1L1271.5 2712.4L1276.1 2688.1L1278.8 2710.2L1281.4 2632.7L1283.4 2702L1285.4 2660.4L1307.3 2715.8L1309.3 2715.8L1331.2 2688.1L1341.1 2715.8L1342.4 2715.8L1349.7 2688.1L1370.3 2715.8L1370.5 2715.8L1371 2715.8L1392.9 2688.1L1408.8 2715.8L1408.8 2715.8Z" fill="#0000ff" stroke="#0000a8" stroke-width="0.45" stroke-linejoin="round" clip-path="url(#cp)"/>
<text x="73.3" y="2806.9" font-size="23.5">GSM2481674</text>
<path d="M259.2 2731.2 H270.95 V2869.7 H259.2" fill="none" stroke="#505050" stroke-width="1.05"/>
<text x="251.6" y="2734.6" font-size="12" text-anchor="end">120</text>
<text x="251.6" y="2872.8" font-size="12" text-anchor="end">0</text>
<path d="M437.4 2869.7L437.4 2869.7L607.2 2731.2L903.4 2869.7L1201.2 2731.2L1313.9 2869.7L1313.9 2869.7Z" fill="#0000ff" stroke="#0000a8" stroke-width="0.45" stroke-linejoin="round" clip-path="url(#cp)"/>
<text x="73.3" y="2960.8" font-size="23.5">GSM2481673</text>
<path d="M259.2 2885.1 H270.95 V3023.6 H259.2" fill="none" stroke="#505050" stroke-width="1.05"/>
<text x="251.6" y="2888.5" font-size="12" text-anchor="end">28</text>
<text x="251.6" y="3026.7" font-size="12" text-anchor="end">0</text>
<path d="M270.9 3023.6L270.9 2993L271.6 2975.2L272.4 2987.1L273.6 2940.6L275.3 2990.7L276.9 2975.2L278.3 2990.7L279.6 2961.3L279.9 2965.9L280.4 2962.2L282.2 2885.1L284.9 2977.8L285.4 2988.4L286.9 3007.2L287.4 3010.3L287.6 3009.8L290.9 3019.8L294.2 3009.8L297.2 3018.5L300.2 2995.9L302.4 3014.7L302.9 3016.2L303.5 3015.3L305.9 3019.4L308.8 2995.9L310.9 3013.7L311.4 3013L312.8 3009.8L318.1 3023.6L323.4 3009.8L330 3023.6L331.3 3023.6L334.6 3009.8L349.9 3023.6L351.2 3023.6L367.8 3009.8L368.4 3011.2L369.8 2982.1L371.4 3007.2L371.9 3011.6L372.4 3009.8L374.4 3014.5L376.4 3009.8L384.4 3023.6L385.7 3023.6L392.3 3009.8L395 3017.2L397.7 3009.8L398.9 3012.7L399.4 3010.1L401.6 2982.1L403.9 3016.1L404.3 3015.3L406.4 3018.6L406.6 3018.4L408.9 2982.1L409.9 2991.8L410.3 2989L411.6 2954.4L412.4 2968.1L412.9 2957.4L414.2 2912.9L415.9 2976.5L417.6 2954.4L419.4 3001.3L420.2 2995.9L421.9 3013L422.9 3009.8L428.2 3023.6L428.8 3023.6L432.1 3009.8L440.8 3023.6L442.8 3023.6L452 3009.8L453.4 3013L453.9 3012.5L456 2968.2L457.9 3007.5L458.4 3010.7L458.7 3009.8L460.7 3014.5L462.7 3009.8L470.6 3023.6L471.3 3023.6L477.2 3009.8L479.9 3017.2L482.6 3009.8L487.4 3022.4L487.9 3021.9L492.5 3009.8L494.8 3015.8L497.1 3009.8L499.5 3015.8L501.8 3009.8L511.7 3023.6L513.1 3023.6L522.3 3009.8L525.3 3018.5L528.3 3009.8L550.2 3023.6L551.4 3023.6L575.4 3009.8L582 3023.6L583.4 3023.6L590 3009.8L599.3 3023.6L601.9 3023.6L612.6 3009.8L621.8 3023.6L628.5 3009.8L630.1 3014.2L631.8 2995.9L633.4 3018L635.1 3015.3L638.4 3023.6L643.1 3009.8L649.7 3023.6L656.3 3009.8L659 3017.2L661.6 2995.9L663.4 3014.4L663.9 3017L664.9 3015.3L667.9 3022.7L672.9 3009.8L677.6 3021.9L677.9 3022.4L681.5 3009.8L682.9 3014.2L684.2 2995.9L685.8 3018L687.5 3015.3L690.4 3022.6L690.8 3022.9L713.4 3009.8L715 3014.2L716.7 2982.1L718.3 3004.8L720 2995.9L743.9 3023.6L745.2 3023.6L770.4 3009.8L779 3023.6L782.3 3023.6L790.3 3009.8L794 3021.2L797.6 3009.8L800.3 3017.2L802.9 2982.1L804.9 3013.3L806.2 3009.8L809.9 3021.2L813.5 3009.8L825.5 3023.6L827.4 3023.6L839.4 3009.8L842.7 3019.8L846 2968.2L846.2 2971.4L846.3 2968.2L848.9 3010.6L849.6 3013.2L850.3 3009.8L866.2 3023.6L867.6 3023.6L878.2 3009.8L879.5 3014.2L880.8 2995.9L882.4 3018L882.8 3019L883.5 3018.1L884.9 3019.6L885.1 3019L886.8 2995.9L896.7 3023.6L897.4 3023.6L903.4 3009.8L908.7 3023.6L909.3 3023.6L914.6 3009.8L917.6 3018.5L920.6 3009.8L923.3 3017.2L925.9 3009.8L928.6 3017.2L931.2 3009.8L932.6 3014.2L933.9 2995.9L934.9 3010.2L935.4 3011.9L935.9 3009.8L952.4 3023.6L953.1 3023.6L971 3009.8L1000.9 3023.6L1001.9 3023.6L1002.2 3023.6L1030.7 3009.8L1032.4 3019.9L1034 3018.1L1035.7 3019.9L1037.3 3018.1L1040.4 3021.8L1044 3009.8L1046.3 3015.8L1048.6 3009.8L1065.2 3023.6L1065.4 3023.6L1066.5 3023.6L1083.8 3009.8L1087.1 3019.8L1090.4 3009.8L1105 3023.6L1106.3 3023.6L1119.6 3009.8L1124.9 3023.6L1126.2 3023.6L1131.5 3009.8L1138.2 3023.6L1144.8 3009.8L1151.4 3023.6L1158.1 3009.8L1167.3 3023.6L1168 3023.6L1178 3009.8L1179.9 3020L1181.9 3018.1L1183.9 3020L1185.9 3009.8L1206.5 3023.6L1207.8 3023.6L1226.4 3009.8L1288.1 3023.6L1350.4 3009.8L1351.9 3019.7L1353.1 3018.1L1354.7 3019.9L1356.4 3009.8L1358 3019.9L1359.7 3018.1L1362 3020.5L1364.3 3009.8L1365.7 3014.2L1367 2995.9L1367.7 3009.5L1368.3 3002.9L1369 3009.5L1369.6 2995.9L1371 3014.2L1372.3 3009.8L1392.2 3023.6L1393.5 3023.6L1413.4 3009.8L1419.4 3023.6L1419.4 3023.6Z" fill="#0000ff" stroke="#0000a8" stroke-width="0.45" stroke-linejoin="round" clip-path="url(#cp)"/>
<text x="73.3" y="3114.7" font-size="23.5">GSM2481672</text>
<path d="M259.2 3039.1 H270.95 V3177.6 H259.2" fill="none" stroke="#505050" stroke-width="1.05"/>
<text x="251.6" y="3042.5" font-size="12" text-anchor="end">38</text>
<text x="251.6" y="3180.7" font-size="12" text-anchor="end">0</text>
<path d="M493.8 3177.6L493.8 3177.6L720.9 3039.1L723.4 3134.9L726.1 3039.1L858.3 3177.6L989.9 3039.1L993.5 3140.9L997 3039.1L997.3 3039.1L997.6 3039.1L1000.6 3146L1003.5 3039.1L1187.9 3177.6L1374.3 3039.1L1399.5 3177.6L1399.5 3177.6Z" fill="#0000ff" stroke="#0000a8" stroke-width="0.45" stroke-linejoin="round" clip-path="url(#cp)"/>
<path d="M723.4 3134.9V3177.6" stroke="#0000a0" stroke-width="0.9" fill="none"/>
<path d="M993.5 3140.9V3177.6" stroke="#0000a0" stroke-width="0.9" fill="none"/>
<path d="M1000.6 3146V3177.6" stroke="#0000a0" stroke-width="0.9" fill="none"/>
<text x="73.3" y="3268.7" font-size="23.5">GSM2481671</text>
<path d="M259.2 3193 H270.95 V3331.5 H259.2" fill="none" stroke="#505050" stroke-width="1.05"/>
<text x="251.6" y="3196.4" font-size="12" text-anchor="end">11</text>
<text x="251.6" y="3334.6" font-size="12" text-anchor="end">0</text>
<path d="M270.9 3331.5L270.9 3302.3L271.6 3285.3L272.4 3303.1L272.9 3303.5L274.3 3239.2L275.9 3314.1L277.6 3239.2L279.4 3301.7L279.9 3309L280.9 3285.3L283.6 3331.5L286.9 3285.3L290.2 3331.5L293.5 3285.3L296.8 3331.5L297.5 3331.5L300.8 3285.3L304.1 3331.5L305.5 3331.5L308.8 3285.3L312.1 3331.5L312.8 3331.5L316.1 3285.3L318.1 3331.5L320.1 3285.3L359.8 3331.5L361.2 3331.5L399.6 3285.3L399.9 3288.8L401 3239.2L403 3331.5L405.6 3193L407.9 3312.4L408.3 3316.1L409.6 3285.3L410.9 3316.1L411.4 3306.4L413.6 3193L416.2 3331.5L418.9 3285.3L421.5 3331.5L424.2 3285.3L426.8 3331.5L427.5 3331.5L430.8 3285.3L433.5 3322.3L433.9 3324L436.1 3285.3L437.4 3316.1L437.9 3308L440.1 3193L442.4 3313L444.1 3239.2L445.9 3302.5L446.4 3314.2L448.1 3285.3L471.9 3331.5L473.3 3331.5L497.8 3285.3L546.9 3331.5L594.6 3285.3L603.3 3331.5L604.6 3331.5L611.2 3285.3L615.9 3326L616.4 3326.9L621.2 3285.3L627.8 3331.5L630.5 3331.5L638.4 3285.3L643.7 3331.5L645.7 3331.5L649 3239.2L652.3 3331.5L655 3285.3L657.7 3331.5L658.3 3331.5L661 3285.3L680.9 3331.5L681.5 3331.5L699.4 3239.2L706.1 3331.5L709.4 3331.5L712.7 3285.3L722.7 3331.5L734.6 3285.3L737.2 3331.5L737.9 3331.5L740.6 3285.3L755.8 3331.5L756.9 3331.5L757.1 3331.5L773.1 3285.3L781 3331.5L781.7 3331.5L788.3 3285.3L793.6 3331.5L794.3 3331.5L799.6 3285.3L804.9 3331.5L808.2 3331.5L813.5 3285.3L827.4 3331.5L828.4 3331.5L828.8 3331.5L842 3285.3L843.4 3309L843.9 3312.2L847 3285.3L847.3 3285.3L847.9 3287.4L866.9 3331.5L868.2 3331.5L888.1 3285.3L891.4 3331.5L893.4 3331.5L896.1 3285.3L922.6 3331.5L923.3 3331.5L947.8 3285.3L947.9 3285.8L948.5 3239.2L948.9 3279.1L949.4 3292.7L957.8 3331.5L959.1 3331.5L965.1 3285.3L968.4 3331.5L971 3331.5L974.3 3285.3L994.9 3331.5L996.2 3331.5L1013.5 3285.3L1014.1 3239.2L1014.9 3297.8L1018.8 3331.5L1024.1 3285.3L1024.7 3239.2L1025.4 3288.4L1044 3331.5L1045.3 3331.5L1061.2 3285.3L1073.8 3331.5L1075.2 3331.5L1089.1 3285.3L1095.7 3331.5L1097.7 3331.5L1102.3 3285.3L1113.6 3331.5L1114.9 3331.5L1122.2 3285.3L1130.2 3331.5L1131.4 3331.5L1131.5 3331.5L1137.5 3285.3L1140.8 3331.5L1142.1 3331.5L1144.8 3239.2L1145.9 3290.4L1146.4 3287.8L1147.4 3239.2L1151.4 3331.5L1152.8 3331.5L1155.4 3285.3L1158.1 3331.5L1158.7 3331.5L1162 3285.3L1176.6 3331.5L1178 3331.5L1190.6 3285.3L1191.2 3239.2L1191.9 3287.9L1215.1 3331.5L1216.4 3331.5L1239.6 3285.3L1248.3 3331.5L1249.6 3331.5L1260.2 3285.3L1260.4 3282.5L1260.9 3239.2L1261.4 3288.6L1261.9 3304.6L1264.2 3331.5L1266.8 3285.3L1274.8 3331.5L1276.1 3331.5L1288.1 3285.3L1317.2 3331.5L1318.6 3331.5L1347.8 3285.3L1352.4 3331.5L1355.1 3331.5L1359 3285.3L1387.6 3331.5L1388.4 3331.5L1388.9 3331.5L1415.4 3285.3L1419.4 3331.5L1422 3285.3L1423.4 3331.5L1423.4 3331.5Z" fill="#0000ff" stroke="#0000a8" stroke-width="0.45" stroke-linejoin="round" clip-path="url(#cp)"/>
<text x="73.3" y="3422.6" font-size="23.5">GSM2481670</text>
<path d="M259.2 3346.9 H270.95 V3485.4 H259.2" fill="none" stroke="#505050" stroke-width="1.05"/>
<text x="251.6" y="3350.3" font-size="12" text-anchor="end">387</text>
<text x="251.6" y="3488.5" font-size="12" text-anchor="end">0</text>
<path d="M293.1 3485.4L293.1 3485.4L316 3439.2L318 3346.9L320.3 3393L872.9 3485.4L872.9 3485.4Z" fill="#0000ff" stroke="#0000a8" stroke-width="0.45" stroke-linejoin="round" clip-path="url(#cp)"/>
<text x="73.3" y="3576.5" font-size="23.5">GSM2481669</text>
<path d="M259.2 3500.9 H270.95 V3639.4 H259.2" fill="none" stroke="#505050" stroke-width="1.05"/>
<text x="251.6" y="3504.3" font-size="12" text-anchor="end">10</text>
<text x="251.6" y="3642.5" font-size="12" text-anchor="end">0</text>
<path d="M270.9 3639.4L270.9 3617.5L271.6 3604.7L272.9 3608.7L273.3 3609.2L274.9 3559L276.3 3589.9L277.6 3581.2L278.9 3594.6L280.3 3586.7L281.6 3604L282.9 3597.8L284.4 3621.2L284.9 3624L285.6 3622.7L287.4 3634.3L287.9 3634.3L288.9 3633.8L291.5 3636.1L294.2 3625.5L296.2 3627.9L298.2 3604.7L299.8 3619.3L301.5 3615.8L302.8 3619.3L304.1 3604.7L305.9 3627.5L307.4 3625.5L310.8 3635.5L314.1 3628.3L317.4 3639.4L318.7 3639.4L322.7 3615.8L324.4 3629.9L326 3628.3L328.3 3631.5L330.7 3615.8L334.6 3639.4L335.3 3639.4L339.3 3628.3L343.3 3638.2L347.2 3604.7L348.9 3624.6L349.9 3622.7L353.2 3633.6L356.5 3615.8L359.5 3628.4L362.5 3604.7L364.2 3625.2L365.8 3622.7L367.8 3625.6L369.8 3586.7L371.1 3594.6L372.4 3570.1L375.1 3632.9L377.8 3628.3L380.4 3632.9L383.1 3615.8L384.7 3619.3L386.4 3593.7L388 3609.9L389.7 3604.7L391.4 3609.9L393 3581.2L394.3 3589.9L395.7 3570.1L397.3 3580.5L399 3570.1L400.4 3579L402.3 3500.9L404.4 3588.7L404.9 3587.5L405.6 3584L406.9 3600.5L408.3 3593.7L409.9 3600.5L411.6 3559L412.9 3599.2L413.4 3608L414.2 3604.7L415.6 3609.9L416.9 3593.7L419.9 3634.2L422.9 3628.3L425.5 3632.9L428.2 3628.3L431.1 3634.2L434.1 3628.3L436.5 3631.5L438.8 3628.3L441.4 3632.9L444.1 3628.3L445.9 3630.8L446.4 3629L448.7 3604.7L450.4 3625.2L452 3622.7L453.7 3625.2L455.4 3604.7L457.4 3626.1L457.9 3629.1L458.7 3628.3L461.3 3632.9L464 3628.3L471.9 3639.4L473.3 3639.4L479.9 3604.7L481.6 3625.2L483.2 3622.7L485.5 3627.6L487.9 3615.8L489.8 3619.9L491.8 3593.7L493.8 3619.9L495.8 3615.8L497.5 3625.2L499.1 3622.7L500.8 3625.2L502.4 3604.7L505.9 3634.8L506.4 3634.2L509.1 3628.3L513.1 3638.2L517 3628.3L521 3638.2L525 3615.8L526.7 3619.3L528.3 3604.7L530.3 3625.6L532.3 3622.7L534 3625.2L535.6 3604.7L536.9 3609.9L538.3 3570.1L539.6 3616.3L539.9 3621L540.9 3618.6L543.9 3634.2L546.9 3628.3L548.9 3630.2L550.9 3615.8L553.2 3627.6L555.5 3622.7L557.5 3625.6L559.5 3604.7L561.1 3621.7L562.8 3618.6L565.1 3624.7L567.4 3618.6L570.4 3634.2L573.4 3628.3L577.4 3639.4L578.1 3639.4L582 3615.8L584.4 3622.7L586.7 3615.8L589.3 3629.6L592 3622.7L594 3625.6L596 3604.7L599 3634.2L601.9 3628.3L604.3 3631.5L606.6 3628.3L608.9 3631.5L611.2 3628.3L614.9 3636.9L618.5 3615.8L620.9 3632.7L621.4 3632.9L623.2 3631.1L625.8 3634.5L628.5 3622.7L630.8 3627.6L633.1 3593.7L634.9 3624.5L635.4 3626.8L636.4 3625.5L638.8 3629.6L641.1 3593.7L642.7 3621.7L644.4 3618.6L646.4 3622.2L648.4 3604.7L650.7 3622.7L653 3615.8L655.3 3629.6L657.7 3625.5L659.6 3627.9L661.6 3604.7L663.9 3628.4L664.4 3629.5L665.6 3628.3L669.9 3637.2L672.9 3633.8L675.9 3637.6L680.9 3615.8L683.4 3633.3L685.5 3631.1L688.2 3634.5L690.8 3615.8L692.5 3619.3L694.1 3604.7L696.1 3610.7L698.1 3604.7L699.8 3625.2L701.4 3622.7L704.1 3629.6L706.7 3622.7L708.4 3625.2L710.1 3604.7L712.4 3629.3L712.7 3631.1L714.7 3628.3L717.4 3634.2L717.9 3634.5L721.3 3604.7L723.4 3626.4L723.9 3629.6L725.3 3628.3L730.6 3639.4L734.6 3628.3L737.2 3632.9L739.9 3628.3L743.2 3635.5L746.5 3628.3L748.9 3631.5L751.2 3615.8L753.2 3632.5L755.2 3631.1L758.1 3635.5L761.1 3628.3L763.8 3632.9L766.4 3628.3L768.8 3631.5L771.1 3628.3L774.1 3636.8L777 3633.8L781.4 3638.4L785.7 3628.3L788 3631.5L790.3 3622.7L792.6 3627.6L794.9 3615.8L797.3 3624.7L799.6 3618.6L801.6 3622.2L803.6 3615.8L805.6 3619.9L807.6 3615.8L809.5 3630.2L811.5 3628.3L814.8 3635.5L818.2 3628.3L823.9 3637.9L827.4 3628.3L835.9 3638.3L839.4 3631.1L842.4 3635.5L845.4 3625.5L845.8 3626.8L846.3 3622.7L846.9 3624L847.4 3621.4L848.7 3604.7L849.2 3609.9L849.6 3604.7L851.3 3619.3L853 3615.8L854.6 3619.3L856.3 3615.8L857.9 3632.3L859.6 3631.1L861.6 3632.5L863.6 3628.3L865.6 3630.2L867.6 3628.3L871.9 3637.4L872.2 3637.3L875.5 3631.1L877.8 3633.5L880.2 3615.8L882.5 3631.5L884.8 3628.3L887.1 3631.5L889.4 3593.7L891.1 3615.8L892.8 3611.7L894.4 3615.8L896.1 3604.7L898.1 3610.7L900.1 3593.7L901.9 3625.5L902.4 3629.2L903.4 3628.3L906.4 3634.2L909.3 3628.3L912 3632.9L914.6 3628.3L917 3631.5L919.3 3628.3L922.6 3635.5L925.9 3628.3L928.2 3631.5L930.6 3615.8L932.6 3632.5L934.5 3631.1L936.9 3633.5L939.2 3611.7L940.8 3615.8L942.5 3593.7L944.5 3627.9L944.9 3629.8L946.5 3628.3L949.5 3634.2L952.4 3628.3L955.1 3632.9L957.8 3628.3L960.1 3631.5L962.4 3628.3L965.4 3634.2L968.4 3615.8L970.4 3630.2L972.3 3628.3L975 3632.9L977.7 3628.3L981 3635.5L984.3 3615.8L986.3 3619.9L988.3 3604.7L990.3 3630.2L992.2 3628.3L995.9 3638.5L1000.9 3628.3L1006.9 3638.4L1007.4 3638.2L1012.1 3631.1L1014.1 3632.5L1016.1 3628.3L1018.1 3630.2L1020.1 3615.8L1022.1 3632.5L1024.1 3631.1L1026.4 3633.5L1028.7 3628.3L1031 3631.5L1033.4 3604.7L1035.4 3622.2L1037.3 3618.6L1038.7 3621.7L1040 3615.8L1041.7 3619.3L1043.3 3593.7L1045.4 3629.5L1046.6 3628.3L1048.6 3630.2L1050.6 3615.8L1052.9 3622.7L1055.3 3581.2L1057.4 3628.2L1057.9 3631.6L1058.6 3631.1L1060.6 3632.5L1062.6 3628.3L1064.9 3633.5L1067.2 3631.1L1077.1 3639.4L1078.5 3639.4L1090.4 3628.3L1092.7 3631.5L1095.1 3615.8L1097.4 3631.5L1099.7 3628.3L1103 3635.5L1106.3 3615.8L1108.4 3634.2L1108.9 3634.5L1110.3 3633.8L1113 3636.1L1115.6 3628.3L1117.3 3629.9L1118.9 3628.3L1120.9 3630.2L1122.9 3604.7L1124.6 3626.4L1124.9 3627.2L1126.2 3625.5L1128.5 3629.6L1130.9 3604.7L1132.9 3631.3L1133.4 3632.1L1134.8 3631.1L1137.2 3633.5L1139.5 3628.3L1141.8 3631.5L1144.1 3615.8L1146.5 3632.3L1146.9 3633L1148.8 3631.1L1152.1 3636.5L1155.4 3628.3L1158.7 3635.5L1162 3604.7L1164.4 3614.9L1166.7 3604.7L1169 3614.9L1171.3 3604.7L1173.3 3619.9L1175.3 3615.8L1178 3625.6L1180.6 3615.8L1183.3 3625.6L1185.9 3615.8L1188.6 3625.6L1191.2 3604.7L1193.2 3622.2L1195.2 3618.6L1197.2 3627.9L1199.2 3625.5L1203.2 3637.9L1207.1 3604.7L1209.1 3622.2L1211.1 3618.6L1213.1 3622.2L1215.1 3615.8L1217.1 3619.9L1219.1 3615.8L1221.7 3632.9L1224.4 3628.3L1227 3635.7L1227.4 3635.8L1229.7 3633.8L1233 3637.5L1236.3 3615.8L1239.6 3631.3L1243 3615.8L1245.6 3634.5L1248.3 3631.1L1250.3 3632.5L1252.2 3615.8L1254.2 3625.6L1256.2 3622.7L1258.9 3632.9L1261.5 3628.3L1263.9 3631.5L1266.2 3615.8L1268.2 3619.9L1270.2 3604.7L1272.1 3627.9L1274.1 3625.5L1276.5 3629.6L1278.8 3604.7L1281.1 3622.7L1283.4 3615.8L1285.4 3622.2L1287.4 3618.6L1289.7 3635.4L1292 3633.8L1296.4 3638.3L1300 3628.3L1302 3630.2L1304 3604.7L1306.3 3614.9L1308.6 3593.7L1310.6 3622.2L1312.6 3618.6L1314.6 3630.2L1316.6 3628.3L1319.6 3634.2L1322.6 3628.3L1324.5 3632.5L1326.5 3631.1L1329.8 3636.5L1333.2 3625.5L1335.2 3627.9L1337.1 3615.8L1339.8 3627.2L1342.4 3618.6L1346.4 3638.5L1350.4 3631.1L1353.1 3634.5L1355.7 3628.3L1358.4 3636.1L1361 3633.8L1365.4 3638.2L1369 3628.3L1371 3630.2L1373 3615.8L1374.3 3627.6L1375.6 3625.5L1377.3 3627.6L1378.9 3604.7L1380.6 3632.3L1382.2 3631.1L1384.6 3633.5L1386.9 3615.8L1389.2 3633.5L1391.5 3631.1L1395.5 3637.3L1395.9 3637L1399.5 3622.7L1401.8 3627.6L1404.1 3604.7L1406.4 3634.3L1406.8 3634.5L1408.1 3633.8L1410.4 3635.4L1412.8 3604.7L1414.9 3632.4L1416.7 3631.1L1418.4 3632.3L1420.1 3628.3L1421.7 3629.9L1423.4 3615.8L1423.5 3618.2L1423.5 3639.4Z" fill="#0000ff" stroke="#0000a8" stroke-width="0.45" stroke-linejoin="round" clip-path="url(#cp)"/>
<text x="73.3" y="3730.4" font-size="23.5">GSM2481668</text>
<path d="M259.2 3654.8 H270.95 V3793.3 H259.2" fill="none" stroke="#505050" stroke-width="1.05"/>
<text x="251.6" y="3658.2" font-size="12" text-anchor="end">9</text>
<text x="251.6" y="3796.4" font-size="12" text-anchor="end">0</text>
<path d="M271 3793.3L271 3793.3L272.3 3701L274.9 3793.3L279.6 3747.1L284.9 3793.3L286.2 3793.3L290.2 3747.1L291.5 3769.1L292.9 3654.8L294.5 3776.8L296.2 3747.1L298.5 3787.1L298.8 3787.5L303.5 3747.1L314.7 3793.3L316.1 3793.3L324 3747.1L334.6 3793.3L336 3793.3L342.5 3752.2L343 3734.9L343.9 3654.8L345 3741.7L345.5 3753.3L359.8 3793.3L361.2 3793.3L373.1 3747.1L376.4 3793.3L378.4 3793.3L381.7 3747.1L383.7 3781.7L384 3781.9L385.7 3701L387.7 3793.3L390.4 3793.3L394.3 3747.1L398.3 3793.3L401.6 3793.3L404.3 3701L406.9 3793.3L409.6 3793.3L414.2 3701L424.2 3793.3L425.5 3793.3L429.5 3747.1L433.5 3793.3L436.8 3747.1L444.1 3793.3L445.4 3793.3L452.7 3747.1L455.5 3793.3L456.7 3793.3L459.3 3747.1L469.3 3793.3L470.6 3793.3L475.9 3747.1L477.5 3783.1L477.9 3777.9L479.2 3747.1L481.2 3793.3L483.9 3747.1L488 3782.7L488.5 3781.1L492.5 3701L507.1 3793.3L508.4 3793.3L518.4 3747.1L522.3 3793.3L523.7 3793.3L528.3 3747.1L533.6 3793.3L534.9 3793.3L540.9 3701L551.5 3793.3L552.9 3793.3L558.8 3747.1L562.1 3793.3L563.5 3793.3L566.1 3747.1L569.4 3793.3L570.1 3793.3L573.4 3654.8L576.7 3793.3L578.7 3793.3L582.7 3747.1L586 3793.3L586.5 3793.3L586.7 3793.3L590 3747.1L591.5 3781.2L592 3778.4L593.3 3747.1L597.3 3793.3L598 3793.3L601.9 3747.1L608.6 3793.3L609 3793.3L609.9 3793.3L618.5 3747.1L626.5 3793.3L627.8 3793.3L633.1 3747.1L635.8 3793.3L637 3793.3L637.1 3793.3L639.7 3747.1L641 3775.5L641.5 3768.7L642.4 3747.1L644.4 3793.3L647 3654.8L649.5 3756.2L650 3753.9L650.4 3747.1L663 3793.3L664.9 3793.3L672.9 3701L686.2 3793.3L686.5 3793.3L687.5 3793.3L698.1 3747.1L701.4 3793.3L702.8 3793.3L705.4 3747.1L710.7 3793.3L712 3793.3L717.3 3747.1L721.3 3793.3L722.7 3793.3L726.6 3747.1L751.2 3793.3L751.5 3793.3L752.5 3793.3L774.4 3747.1L779 3793.3L782.3 3793.3L789 3701L795.6 3793.3L798.9 3793.3L807.6 3747.1L815.5 3793.3L816 3793.3L818.2 3793.3L822.1 3747.1L840.7 3793.3L848.7 3747.1L850.5 3768L851 3770.2L856.9 3747.1L868.9 3793.3L870.2 3793.3L880.8 3747.1L883.5 3793.3L885.5 3793.3L888.1 3747.1L891.4 3793.3L892.8 3793.3L894.7 3701L896.7 3793.3L898.7 3701L900 3758.7L900.5 3752.8L900.7 3747.1L911.3 3793.3L912.7 3793.3L922.6 3747.1L924.5 3779.6L925.9 3747.1L929.9 3793.3L932.6 3793.3L939.2 3747.1L949.8 3793.3L951.1 3793.3L959.1 3747.1L963.1 3793.3L965.1 3793.3L968.4 3747.1L970.5 3783.7L971 3782.6L973 3747.1L975 3793.3L977 3747.1L985.6 3793.3L986.5 3793.3L986.9 3793.3L993.5 3752L994.2 3701L995 3752.1L995.5 3768.6L996.5 3786L998.2 3747.1L1002.2 3793.3L1003.5 3793.3L1007.5 3747.1L1009.5 3781.8L1010 3782.2L1011.5 3747.1L1015.5 3793.3L1016.1 3793.3L1018.8 3747.1L1020.5 3776.6L1021 3773.2L1024.1 3701L1032 3793.3L1033.4 3793.3L1038.7 3747.1L1047.3 3793.3L1048.6 3793.3L1053.9 3747.1L1057.2 3793.3L1057.9 3793.3L1061.2 3747.1L1077.1 3793.3L1078.5 3793.3L1093.1 3747.1L1103.7 3793.3L1105 3793.3L1112.3 3747.1L1114 3785.2L1115.6 3747.1L1118.3 3793.3L1119.6 3793.3L1120.3 3701L1143.5 3793.3L1144.8 3793.3L1166.7 3747.1L1186.6 3793.3L1187.9 3793.3L1209.1 3747.1L1221.7 3793.3L1223.1 3793.3L1236.3 3747.1L1236.5 3749.3L1237 3701L1238 3769.1L1238.3 3781.7L1239 3793.3L1241.6 3793.3L1244.3 3747.1L1247.6 3793.3L1248.3 3793.3L1251.6 3747.1L1261.5 3793.3L1262.9 3793.3L1269.5 3747.1L1272.1 3793.3L1274.1 3747.1L1276.8 3793.3L1278.1 3793.3L1280.8 3747.1L1284.1 3793.3L1284.7 3793.3L1287.4 3747.1L1313.9 3793.3L1315.3 3793.3L1341.1 3747.1L1341.5 3751.1L1342 3745.5L1342.4 3701L1343 3749.2L1343.4 3774.1L1345.1 3793.3L1345.5 3793.3L1347.1 3793.3L1350.4 3747.1L1369 3793.3L1370.3 3793.3L1387.6 3747.1L1396.8 3793.3L1398.8 3793.3L1407.4 3747.1L1408 3756.2L1408.5 3755L1409.4 3701L1411.1 3793.3L1411.8 3793.3L1413.4 3701L1415.1 3793.3L1416.7 3793.3L1419.4 3747.1L1420.5 3772.2L1421 3772L1422 3747.1L1423.4 3793.3L1423.4 3793.3Z" fill="#0000ff" stroke="#0000a8" stroke-width="0.45" stroke-linejoin="round" clip-path="url(#cp)"/>
<text x="850.2" y="3904" font-size="36" text-anchor="middle">SYS1-DBNDD2</text>
<path d="M279.5 3957.6 H1410" stroke="#222" stroke-width="1" fill="none"/>
<rect x="276.9" y="3933.7" width="2.7" height="47.4" fill="#000"/>
<rect x="284" y="3933.7" width="4.8" height="47.4" fill="#000"/>
<rect x="285" y="3910.2" width="3.8" height="94" fill="#000"/>
<rect x="335" y="3910.2" width="2.5" height="94" fill="#000"/>
<rect x="1159.3" y="3910.2" width="2.4" height="94" fill="#000"/>
<rect x="1341.2" y="3933.7" width="14.3" height="47.4" fill="#000"/>
<rect x="1371.2" y="3910.2" width="4.4" height="94" fill="#000"/>
<rect x="1379.3" y="3910.2" width="4.1" height="94" fill="#000"/>
<rect x="1406.9" y="3910.2" width="5.4" height="94" fill="#000"/>
<rect x="1412" y="3933.7" width="11.9" height="47.4" fill="#000"/>
<path d="M306.8 3948.1L317.3 3957.6L306.8 3967.1M349.4 3948.1L359.9 3957.6L349.4 3967.1M386.8 3948.1L397.3 3957.6L386.8 3967.1M424.3 3948.1L434.8 3957.6L424.3 3967.1M461.8 3948.1L472.2 3957.6L461.8 3967.1M499.2 3948.1L509.7 3957.6L499.2 3967.1M536.6 3948.1L547.1 3957.6L536.6 3967.1M574.1 3948.1L584.6 3957.6L574.1 3967.1M611.5 3948.1L622 3957.6L611.5 3967.1M649 3948.1L659.5 3957.6L649 3967.1M686.5 3948.1L697 3957.6L686.5 3967.1M723.9 3948.1L734.4 3957.6L723.9 3967.1M761.4 3948.1L771.9 3957.6L761.4 3967.1M798.8 3948.1L809.3 3957.6L798.8 3967.1M836.2 3948.1L846.8 3957.6L836.2 3967.1M873.7 3948.1L884.2 3957.6L873.7 3967.1M911.1 3948.1L921.6 3957.6L911.1 3967.1M948.6 3948.1L959.1 3957.6L948.6 3967.1M986.1 3948.1L996.6 3957.6L986.1 3967.1M1023.5 3948.1L1034 3957.6L1023.5 3967.1M1061 3948.1L1071.5 3957.6L1061 3967.1M1098.4 3948.1L1108.9 3957.6L1098.4 3967.1M1135.8 3948.1L1146.3 3957.6L1135.8 3967.1M1170.5 3948.1L1181 3957.6L1170.5 3967.1M1208.3 3948.1L1218.8 3957.6L1208.3 3967.1M1245.7 3948.1L1256.2 3957.6L1245.7 3967.1M1283.1 3948.1L1293.6 3957.6L1283.1 3967.1M1320.9 3948.1L1331.4 3957.6L1320.9 3967.1M1357.6 3948.1L1368.1 3957.6L1357.6 3967.1M1389.9 3948.1L1400.4 3957.6L1389.9 3967.1" stroke="#222" stroke-width="1" fill="none"/>
<text x="74.8" y="4110.3" font-size="49.3">chr20</text>
<rect x="271.2" y="4062.8" width="1152.3" height="57.8" fill="#c8c8c8"/>
<path d="M271.2 4062.8H1423.5" stroke="#7a7a7a" stroke-width="1.6"/>
<path d="M271.2 4120.6H1423.5" stroke="#7a7a7a" stroke-width="1"/>
<path d="M296.3 4120.6V4150.5M344.6 4120.6V4150.5M393 4120.6V4150.5M441.4 4120.6V4196M489.8 4120.6V4150.5M538.2 4120.6V4150.5M586.5 4120.6V4150.5M634.9 4120.6V4150.5M683.3 4120.6V4196M731.7 4120.6V4150.5M780.1 4120.6V4150.5M828.4 4120.6V4150.5M876.8 4120.6V4150.5M925.2 4120.6V4196M973.6 4120.6V4150.5M1022 4120.6V4150.5M1070.3 4120.6V4150.5M1118.7 4120.6V4150.5M1167.1 4120.6V4196M1215.5 4120.6V4150.5M1263.9 4120.6V4150.5M1312.2 4120.6V4150.5M1360.6 4120.6V4150.5M1409 4120.6V4196" stroke="#333" stroke-width="1" fill="none"/>
<text x="441.4" y="4212.3" font-size="23.5" text-anchor="middle">45.37Mb</text>
<text x="683.3" y="4212.3" font-size="23.5" text-anchor="middle">45.38Mb</text>
<text x="925.2" y="4212.3" font-size="23.5" text-anchor="middle">45.39Mb</text>
<text x="1167.1" y="4212.3" font-size="23.5" text-anchor="middle">45.4Mb</text>
<text x="1409" y="4212.3" font-size="23.5" text-anchor="middle">45.41Mb</text>
</svg></body></html>
